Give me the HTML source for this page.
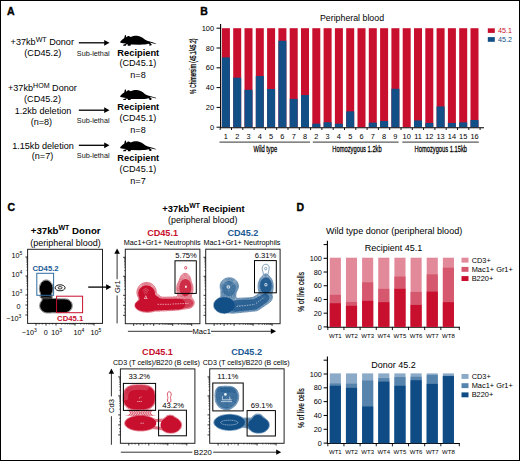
<!DOCTYPE html><html><head><meta charset="utf-8"><style>html,body{margin:0;padding:0;background:#fff;}svg{display:block;font-family:"Liberation Sans",sans-serif;}</style></head><body>
<svg width="520" height="461" viewBox="0 0 520 461">
<rect x="0" y="0" width="520" height="461" fill="#fff"/>
<text x="7" y="14.6" font-size="10.5" text-anchor="start" font-weight="bold" fill="#000" stroke="#000" stroke-width="0.35">A</text>
<text x="10.6" y="45" font-size="9.1">+37kb<tspan font-size="7.1" dy="-3.5">WT</tspan><tspan dy="3.5"> Donor</tspan></text>
<text x="42.8" y="55.6" font-size="9.1" text-anchor="middle" font-weight="normal" fill="#000" >(CD45.2)</text>
<text x="8" y="91.2" font-size="9.1">+37kb<tspan font-size="7.1" dy="-3.5">HOM</tspan><tspan dy="3.5"> Donor</tspan></text>
<text x="42.5" y="101.5" font-size="9.1" text-anchor="middle" font-weight="normal" fill="#000" >(CD45.2)</text>
<text x="43" y="113.8" font-size="9.1" text-anchor="middle" font-weight="normal" fill="#000" >1.2kb deletion</text>
<text x="41.4" y="124.7" font-size="9.1" text-anchor="middle" font-weight="normal" fill="#000" >(n=8)</text>
<text x="43" y="148.7" font-size="9.1" text-anchor="middle" font-weight="normal" fill="#000" >1.15kb deletion</text>
<text x="42.5" y="159.2" font-size="9.1" text-anchor="middle" font-weight="normal" fill="#000" >(n=7)</text>
<line x1="78.8" y1="42.8" x2="104.7" y2="42.8" stroke="#000" stroke-width="1.3"/><path d="M104.2 39.9 L109.5 42.8 L104.2 45.699999999999996 Z" fill="#000"/>
<text transform="translate(93.2,55.8) scale(0.91,1)" font-size="8" text-anchor="middle" fill="#111">Sub-lethal</text>
<line x1="78.8" y1="110.2" x2="104.7" y2="110.2" stroke="#000" stroke-width="1.3"/><path d="M104.2 107.3 L109.5 110.2 L104.2 113.10000000000001 Z" fill="#000"/>
<text transform="translate(93.2,122.9) scale(0.91,1)" font-size="8" text-anchor="middle" fill="#111">Sub-lethal</text>
<line x1="78.8" y1="145.3" x2="104.7" y2="145.3" stroke="#000" stroke-width="1.3"/><path d="M104.2 142.4 L109.5 145.3 L104.2 148.20000000000002 Z" fill="#000"/>
<text transform="translate(93.2,157.7) scale(0.91,1)" font-size="8" text-anchor="middle" fill="#111">Sub-lethal</text>
<path transform="translate(0,0)" d="M120.1 41.9 C121 40.5 122.5 39.3 124.2 38.2 L124.9 35.2 L125.8 35.1 L126.3 37.0 L126.9 37.2 C127.2 36.2 128.0 35.8 128.8 35.9 C129.6 36.0 130.1 36.5 130.6 36.9 C132.5 36.0 135 35.6 137 35.7 C140 36.0 142.5 37.5 144.5 39.3 C146 40.5 147.5 41 149 41.3 L152.5 42.3 L155.9 43.4 L156.3 44.1 L152.4 43.2 L150 42.6 L150.5 43.3 L151.7 44.2 L151.2 45.6 L149.0 45.6 L149.7 44.5 L148.3 43.8 C146 44.5 143 44.7 140 44.7 L131 44.6 L130.4 45.7 L127.7 45.7 L128.0 44.5 L126.5 44.2 L125.7 45.7 L123 45.7 L123.6 44.6 L125.4 44.0 L126.0 43.5 C124 43.4 122 43.1 120.5 42.7 Z" fill="#000"/>
<text x="138.3" y="55.5" font-size="9.3" text-anchor="middle" font-weight="bold" fill="#000" >Recipient</text>
<text x="137.9" y="66.4" font-size="9.1" text-anchor="middle" font-weight="normal" fill="#000" >(CD45.1)</text>
<path transform="translate(0,54.4)" d="M120.1 41.9 C121 40.5 122.5 39.3 124.2 38.2 L124.9 35.2 L125.8 35.1 L126.3 37.0 L126.9 37.2 C127.2 36.2 128.0 35.8 128.8 35.9 C129.6 36.0 130.1 36.5 130.6 36.9 C132.5 36.0 135 35.6 137 35.7 C140 36.0 142.5 37.5 144.5 39.3 C146 40.5 147.5 41 149 41.3 L152.5 42.3 L155.9 43.4 L156.3 44.1 L152.4 43.2 L150 42.6 L150.5 43.3 L151.7 44.2 L151.2 45.6 L149.0 45.6 L149.7 44.5 L148.3 43.8 C146 44.5 143 44.7 140 44.7 L131 44.6 L130.4 45.7 L127.7 45.7 L128.0 44.5 L126.5 44.2 L125.7 45.7 L123 45.7 L123.6 44.6 L125.4 44.0 L126.0 43.5 C124 43.4 122 43.1 120.5 42.7 Z" fill="#000"/>
<text x="138.3" y="109.6" font-size="9.3" text-anchor="middle" font-weight="bold" fill="#000" >Recipient</text>
<text x="137.9" y="120.5" font-size="9.1" text-anchor="middle" font-weight="normal" fill="#000" >(CD45.1)</text>
<path transform="translate(0,105.5)" d="M120.1 41.9 C121 40.5 122.5 39.3 124.2 38.2 L124.9 35.2 L125.8 35.1 L126.3 37.0 L126.9 37.2 C127.2 36.2 128.0 35.8 128.8 35.9 C129.6 36.0 130.1 36.5 130.6 36.9 C132.5 36.0 135 35.6 137 35.7 C140 36.0 142.5 37.5 144.5 39.3 C146 40.5 147.5 41 149 41.3 L152.5 42.3 L155.9 43.4 L156.3 44.1 L152.4 43.2 L150 42.6 L150.5 43.3 L151.7 44.2 L151.2 45.6 L149.0 45.6 L149.7 44.5 L148.3 43.8 C146 44.5 143 44.7 140 44.7 L131 44.6 L130.4 45.7 L127.7 45.7 L128.0 44.5 L126.5 44.2 L125.7 45.7 L123 45.7 L123.6 44.6 L125.4 44.0 L126.0 43.5 C124 43.4 122 43.1 120.5 42.7 Z" fill="#000"/>
<text x="138.3" y="161.2" font-size="9.3" text-anchor="middle" font-weight="bold" fill="#000" >Recipient</text>
<text x="137.9" y="172.1" font-size="9.1" text-anchor="middle" font-weight="normal" fill="#000" >(CD45.1)</text>
<text x="138" y="77.6" font-size="9.1" text-anchor="middle" font-weight="normal" fill="#000" >n=8</text>
<text x="138" y="132.7" font-size="9.1" text-anchor="middle" font-weight="normal" fill="#000" >n=8</text>
<text x="138" y="184" font-size="9.1" text-anchor="middle" font-weight="normal" fill="#000" >n=7</text>
<text x="200.3" y="14.7" font-size="10.5" text-anchor="start" font-weight="bold" fill="#000" stroke="#000" stroke-width="0.35">B</text>
<text x="352" y="21" font-size="8.8" text-anchor="middle" font-weight="normal" fill="#000" >Peripheral blood</text>
<line x1="220.6" y1="24" x2="220.6" y2="127.6" stroke="#000" stroke-width="1.1"/>
<line x1="216.5" y1="127.20" x2="220.6" y2="127.20" stroke="#000" stroke-width="1"/>
<text x="214.2" y="129.75" font-size="7.5" text-anchor="end" font-weight="normal" fill="#000" >0</text>
<line x1="216.5" y1="107.40" x2="220.6" y2="107.40" stroke="#000" stroke-width="1"/>
<text x="214.2" y="109.95" font-size="7.5" text-anchor="end" font-weight="normal" fill="#000" >20</text>
<line x1="216.5" y1="87.60" x2="220.6" y2="87.60" stroke="#000" stroke-width="1"/>
<text x="214.2" y="90.14999999999999" font-size="7.5" text-anchor="end" font-weight="normal" fill="#000" >40</text>
<line x1="216.5" y1="67.80" x2="220.6" y2="67.80" stroke="#000" stroke-width="1"/>
<text x="214.2" y="70.35000000000001" font-size="7.5" text-anchor="end" font-weight="normal" fill="#000" >60</text>
<line x1="216.5" y1="48.00" x2="220.6" y2="48.00" stroke="#000" stroke-width="1"/>
<text x="214.2" y="50.55" font-size="7.5" text-anchor="end" font-weight="normal" fill="#000" >80</text>
<line x1="216.5" y1="28.20" x2="220.6" y2="28.20" stroke="#000" stroke-width="1"/>
<text x="214.2" y="30.750000000000004" font-size="7.5" text-anchor="end" font-weight="normal" fill="#000" >100</text>
<text transform="translate(195.6,66.2) rotate(-90) scale(0.53,1)" font-size="9.4" text-anchor="middle" stroke="#000" stroke-width="0.3">% Chimersim (45.1/45.2)</text>
<rect x="221.90" y="28.20" width="8" height="99.00" fill="#c8102e"/>
<rect x="221.90" y="57.41" width="8" height="69.80" fill="#124f87"/>
<text x="225.90" y="139.2" font-size="7.4" text-anchor="middle" font-weight="normal" fill="#000" >1</text>
<rect x="233.20" y="28.20" width="8" height="99.00" fill="#c8102e"/>
<rect x="233.20" y="77.70" width="8" height="49.50" fill="#124f87"/>
<text x="237.20" y="139.2" font-size="7.4" text-anchor="middle" font-weight="normal" fill="#000" >2</text>
<rect x="244.50" y="28.20" width="8" height="99.00" fill="#c8102e"/>
<rect x="244.50" y="89.78" width="8" height="37.42" fill="#124f87"/>
<text x="248.50" y="139.2" font-size="7.4" text-anchor="middle" font-weight="normal" fill="#000" >3</text>
<rect x="255.80" y="28.20" width="8" height="99.00" fill="#c8102e"/>
<rect x="255.80" y="76.02" width="8" height="51.18" fill="#124f87"/>
<text x="259.80" y="139.2" font-size="7.4" text-anchor="middle" font-weight="normal" fill="#000" >4</text>
<rect x="267.10" y="28.20" width="8" height="99.00" fill="#c8102e"/>
<rect x="267.10" y="88.99" width="8" height="38.21" fill="#124f87"/>
<text x="271.10" y="139.2" font-size="7.4" text-anchor="middle" font-weight="normal" fill="#000" >5</text>
<rect x="278.40" y="28.20" width="8" height="99.00" fill="#c8102e"/>
<rect x="278.40" y="40.77" width="8" height="86.43" fill="#124f87"/>
<text x="282.40" y="139.2" font-size="7.4" text-anchor="middle" font-weight="normal" fill="#000" >6</text>
<rect x="289.70" y="28.20" width="8" height="99.00" fill="#c8102e"/>
<rect x="289.70" y="98.89" width="8" height="28.31" fill="#124f87"/>
<text x="293.70" y="139.2" font-size="7.4" text-anchor="middle" font-weight="normal" fill="#000" >7</text>
<rect x="301.00" y="28.20" width="8" height="99.00" fill="#c8102e"/>
<rect x="301.00" y="95.03" width="8" height="32.17" fill="#124f87"/>
<text x="305.00" y="139.2" font-size="7.4" text-anchor="middle" font-weight="normal" fill="#000" >8</text>
<rect x="312.30" y="28.20" width="8" height="99.00" fill="#c8102e"/>
<rect x="312.30" y="123.64" width="8" height="3.56" fill="#124f87"/>
<text x="316.30" y="139.2" font-size="7.4" text-anchor="middle" font-weight="normal" fill="#000" >2</text>
<rect x="323.60" y="28.20" width="8" height="99.00" fill="#c8102e"/>
<rect x="323.60" y="122.25" width="8" height="4.95" fill="#124f87"/>
<text x="327.60" y="139.2" font-size="7.4" text-anchor="middle" font-weight="normal" fill="#000" >3</text>
<rect x="334.90" y="28.20" width="8" height="99.00" fill="#c8102e"/>
<rect x="334.90" y="123.73" width="8" height="3.46" fill="#124f87"/>
<text x="338.90" y="139.2" font-size="7.4" text-anchor="middle" font-weight="normal" fill="#000" >4</text>
<rect x="346.20" y="28.20" width="8" height="99.00" fill="#c8102e"/>
<rect x="346.20" y="111.36" width="8" height="15.84" fill="#124f87"/>
<text x="350.20" y="139.2" font-size="7.4" text-anchor="middle" font-weight="normal" fill="#000" >5</text>
<rect x="357.50" y="28.20" width="8" height="99.00" fill="#c8102e"/>
<text x="361.50" y="139.2" font-size="7.4" text-anchor="middle" font-weight="normal" fill="#000" >6</text>
<rect x="368.80" y="28.20" width="8" height="99.00" fill="#c8102e"/>
<rect x="368.80" y="122.65" width="8" height="4.55" fill="#124f87"/>
<text x="372.80" y="139.2" font-size="7.4" text-anchor="middle" font-weight="normal" fill="#000" >7</text>
<rect x="380.10" y="28.20" width="8" height="99.00" fill="#c8102e"/>
<rect x="380.10" y="120.96" width="8" height="6.24" fill="#124f87"/>
<text x="384.10" y="139.2" font-size="7.4" text-anchor="middle" font-weight="normal" fill="#000" >8</text>
<rect x="391.40" y="28.20" width="8" height="99.00" fill="#c8102e"/>
<rect x="391.40" y="88.79" width="8" height="38.41" fill="#124f87"/>
<text x="395.40" y="139.2" font-size="7.4" text-anchor="middle" font-weight="normal" fill="#000" >9</text>
<rect x="402.70" y="28.20" width="8" height="99.00" fill="#c8102e"/>
<text x="406.70" y="139.2" font-size="7.4" text-anchor="middle" font-weight="normal" fill="#000" >10</text>
<rect x="414.00" y="28.20" width="8" height="99.00" fill="#c8102e"/>
<rect x="414.00" y="120.47" width="8" height="6.73" fill="#124f87"/>
<text x="418.00" y="139.2" font-size="7.4" text-anchor="middle" font-weight="normal" fill="#000" >11</text>
<rect x="425.30" y="28.20" width="8" height="99.00" fill="#c8102e"/>
<rect x="425.30" y="122.94" width="8" height="4.26" fill="#124f87"/>
<text x="429.30" y="139.2" font-size="7.4" text-anchor="middle" font-weight="normal" fill="#000" >12</text>
<rect x="436.60" y="28.20" width="8" height="99.00" fill="#c8102e"/>
<rect x="436.60" y="106.41" width="8" height="20.79" fill="#124f87"/>
<text x="440.60" y="139.2" font-size="7.4" text-anchor="middle" font-weight="normal" fill="#000" >13</text>
<rect x="447.90" y="28.20" width="8" height="99.00" fill="#c8102e"/>
<rect x="447.90" y="122.94" width="8" height="4.26" fill="#124f87"/>
<text x="451.90" y="139.2" font-size="7.4" text-anchor="middle" font-weight="normal" fill="#000" >14</text>
<rect x="459.20" y="28.20" width="8" height="99.00" fill="#c8102e"/>
<rect x="459.20" y="122.35" width="8" height="4.85" fill="#124f87"/>
<text x="463.20" y="139.2" font-size="7.4" text-anchor="middle" font-weight="normal" fill="#000" >15</text>
<rect x="470.50" y="28.20" width="8" height="99.00" fill="#c8102e"/>
<rect x="470.50" y="119.97" width="8" height="7.23" fill="#124f87"/>
<text x="474.50" y="139.2" font-size="7.4" text-anchor="middle" font-weight="normal" fill="#000" >16</text>
<line x1="220" y1="127.7" x2="484" y2="127.7" stroke="#000" stroke-width="1.1"/>
<line x1="220.20" y1="127.7" x2="220.20" y2="130" stroke="#000" stroke-width="0.9"/>
<line x1="231.50" y1="127.7" x2="231.50" y2="130" stroke="#000" stroke-width="0.9"/>
<line x1="242.80" y1="127.7" x2="242.80" y2="130" stroke="#000" stroke-width="0.9"/>
<line x1="254.10" y1="127.7" x2="254.10" y2="130" stroke="#000" stroke-width="0.9"/>
<line x1="265.40" y1="127.7" x2="265.40" y2="130" stroke="#000" stroke-width="0.9"/>
<line x1="276.70" y1="127.7" x2="276.70" y2="130" stroke="#000" stroke-width="0.9"/>
<line x1="288.00" y1="127.7" x2="288.00" y2="130" stroke="#000" stroke-width="0.9"/>
<line x1="299.30" y1="127.7" x2="299.30" y2="130" stroke="#000" stroke-width="0.9"/>
<line x1="310.60" y1="127.7" x2="310.60" y2="130" stroke="#000" stroke-width="0.9"/>
<line x1="321.90" y1="127.7" x2="321.90" y2="130" stroke="#000" stroke-width="0.9"/>
<line x1="333.20" y1="127.7" x2="333.20" y2="130" stroke="#000" stroke-width="0.9"/>
<line x1="344.50" y1="127.7" x2="344.50" y2="130" stroke="#000" stroke-width="0.9"/>
<line x1="355.80" y1="127.7" x2="355.80" y2="130" stroke="#000" stroke-width="0.9"/>
<line x1="367.10" y1="127.7" x2="367.10" y2="130" stroke="#000" stroke-width="0.9"/>
<line x1="378.40" y1="127.7" x2="378.40" y2="130" stroke="#000" stroke-width="0.9"/>
<line x1="389.70" y1="127.7" x2="389.70" y2="130" stroke="#000" stroke-width="0.9"/>
<line x1="401.00" y1="127.7" x2="401.00" y2="130" stroke="#000" stroke-width="0.9"/>
<line x1="412.30" y1="127.7" x2="412.30" y2="130" stroke="#000" stroke-width="0.9"/>
<line x1="423.60" y1="127.7" x2="423.60" y2="130" stroke="#000" stroke-width="0.9"/>
<line x1="434.90" y1="127.7" x2="434.90" y2="130" stroke="#000" stroke-width="0.9"/>
<line x1="446.20" y1="127.7" x2="446.20" y2="130" stroke="#000" stroke-width="0.9"/>
<line x1="457.50" y1="127.7" x2="457.50" y2="130" stroke="#000" stroke-width="0.9"/>
<line x1="468.80" y1="127.7" x2="468.80" y2="130" stroke="#000" stroke-width="0.9"/>
<line x1="480.10" y1="127.7" x2="480.10" y2="130" stroke="#000" stroke-width="0.9"/>
<line x1="219.5" y1="142.1" x2="310" y2="142.1" stroke="#333" stroke-width="1"/>
<text transform="translate(265.3,152.1) scale(0.68,1)" font-size="8.5" text-anchor="middle" stroke="#000" stroke-width="0.25">Wild type</text>
<line x1="312.8" y1="142.1" x2="398.6" y2="142.1" stroke="#333" stroke-width="1"/>
<text transform="translate(357,152.1) scale(0.68,1)" font-size="8.5" text-anchor="middle" stroke="#000" stroke-width="0.25">Homozygous 1.2kb</text>
<line x1="402.3" y1="142.1" x2="478.8" y2="142.1" stroke="#333" stroke-width="1"/>
<text transform="translate(440.8,152.1) scale(0.68,1)" font-size="8.5" text-anchor="middle" stroke="#000" stroke-width="0.25">Homozygous 1.15kb</text>
<rect x="487.8" y="28.3" width="7" height="4.6" fill="#c8102e"/>
<text x="498" y="33.4" font-size="7.2" text-anchor="start" font-weight="normal" fill="#c8102e" >45.1</text>
<rect x="487.8" y="37.1" width="7" height="4.7" fill="#124f87"/>
<text x="498" y="42" font-size="7.2" text-anchor="start" font-weight="normal" fill="#124f87" >45.2</text>
<text x="7.6" y="211.4" font-size="10.5" text-anchor="start" font-weight="bold" fill="#000" stroke="#000" stroke-width="0.35">C</text>
<text x="65.7" y="233.9" font-size="9.7" font-weight="bold" text-anchor="middle">+37kb<tspan font-size="7.0" dy="-3.7">WT</tspan><tspan dy="3.7"> Donor</tspan></text>
<text x="65.6" y="245.5" font-size="9.0" text-anchor="middle" font-weight="normal" fill="#000" >(peripheral blood)</text>
<rect x="27.6" y="249.3" width="74.9" height="74.09999999999997" fill="none" stroke="#222" stroke-width="1.0"/>
<line x1="25.400000000000002" y1="315.0" x2="27.6" y2="315.0" stroke="#000" stroke-width="0.8"/><line x1="25.400000000000002" y1="305.0" x2="27.6" y2="305.0" stroke="#000" stroke-width="0.8"/><line x1="25.400000000000002" y1="295.0" x2="27.6" y2="295.0" stroke="#000" stroke-width="0.8"/><line x1="25.400000000000002" y1="276.0" x2="27.6" y2="276.0" stroke="#000" stroke-width="0.8"/><line x1="25.400000000000002" y1="257.0" x2="27.6" y2="257.0" stroke="#000" stroke-width="0.8"/><line x1="26.3" y1="289.3" x2="27.6" y2="289.3" stroke="#000" stroke-width="0.5"/><line x1="26.3" y1="285.9" x2="27.6" y2="285.9" stroke="#000" stroke-width="0.5"/><line x1="26.3" y1="283.6" x2="27.6" y2="283.6" stroke="#000" stroke-width="0.5"/><line x1="26.3" y1="281.7" x2="27.6" y2="281.7" stroke="#000" stroke-width="0.5"/><line x1="26.3" y1="280.2" x2="27.6" y2="280.2" stroke="#000" stroke-width="0.5"/><line x1="26.3" y1="278.9" x2="27.6" y2="278.9" stroke="#000" stroke-width="0.5"/><line x1="26.3" y1="277.8" x2="27.6" y2="277.8" stroke="#000" stroke-width="0.5"/><line x1="26.3" y1="276.9" x2="27.6" y2="276.9" stroke="#000" stroke-width="0.5"/><line x1="26.3" y1="270.3" x2="27.6" y2="270.3" stroke="#000" stroke-width="0.5"/><line x1="26.3" y1="266.9" x2="27.6" y2="266.9" stroke="#000" stroke-width="0.5"/><line x1="26.3" y1="264.6" x2="27.6" y2="264.6" stroke="#000" stroke-width="0.5"/><line x1="26.3" y1="262.7" x2="27.6" y2="262.7" stroke="#000" stroke-width="0.5"/><line x1="26.3" y1="261.2" x2="27.6" y2="261.2" stroke="#000" stroke-width="0.5"/><line x1="26.3" y1="259.9" x2="27.6" y2="259.9" stroke="#000" stroke-width="0.5"/><line x1="26.3" y1="258.8" x2="27.6" y2="258.8" stroke="#000" stroke-width="0.5"/><line x1="26.3" y1="257.9" x2="27.6" y2="257.9" stroke="#000" stroke-width="0.5"/><line x1="26.3" y1="311.9" x2="27.6" y2="311.9" stroke="#000" stroke-width="0.5"/><line x1="26.3" y1="308.6" x2="27.6" y2="308.6" stroke="#000" stroke-width="0.5"/><line x1="26.3" y1="301.7" x2="27.6" y2="301.7" stroke="#000" stroke-width="0.5"/><line x1="26.3" y1="298.4" x2="27.6" y2="298.4" stroke="#000" stroke-width="0.5"/>
<line x1="36.0" y1="323.4" x2="36.0" y2="325.59999999999997" stroke="#000" stroke-width="0.8"/><line x1="46.0" y1="323.4" x2="46.0" y2="325.59999999999997" stroke="#000" stroke-width="0.8"/><line x1="56.0" y1="323.4" x2="56.0" y2="325.59999999999997" stroke="#000" stroke-width="0.8"/><line x1="75.0" y1="323.4" x2="75.0" y2="325.59999999999997" stroke="#000" stroke-width="0.8"/><line x1="94.0" y1="323.4" x2="94.0" y2="325.59999999999997" stroke="#000" stroke-width="0.8"/><line x1="61.7" y1="323.4" x2="61.7" y2="324.7" stroke="#000" stroke-width="0.5"/><line x1="65.1" y1="323.4" x2="65.1" y2="324.7" stroke="#000" stroke-width="0.5"/><line x1="67.4" y1="323.4" x2="67.4" y2="324.7" stroke="#000" stroke-width="0.5"/><line x1="69.3" y1="323.4" x2="69.3" y2="324.7" stroke="#000" stroke-width="0.5"/><line x1="70.8" y1="323.4" x2="70.8" y2="324.7" stroke="#000" stroke-width="0.5"/><line x1="72.1" y1="323.4" x2="72.1" y2="324.7" stroke="#000" stroke-width="0.5"/><line x1="73.2" y1="323.4" x2="73.2" y2="324.7" stroke="#000" stroke-width="0.5"/><line x1="74.1" y1="323.4" x2="74.1" y2="324.7" stroke="#000" stroke-width="0.5"/><line x1="80.7" y1="323.4" x2="80.7" y2="324.7" stroke="#000" stroke-width="0.5"/><line x1="84.1" y1="323.4" x2="84.1" y2="324.7" stroke="#000" stroke-width="0.5"/><line x1="86.4" y1="323.4" x2="86.4" y2="324.7" stroke="#000" stroke-width="0.5"/><line x1="88.3" y1="323.4" x2="88.3" y2="324.7" stroke="#000" stroke-width="0.5"/><line x1="89.8" y1="323.4" x2="89.8" y2="324.7" stroke="#000" stroke-width="0.5"/><line x1="91.1" y1="323.4" x2="91.1" y2="324.7" stroke="#000" stroke-width="0.5"/><line x1="92.2" y1="323.4" x2="92.2" y2="324.7" stroke="#000" stroke-width="0.5"/><line x1="93.1" y1="323.4" x2="93.1" y2="324.7" stroke="#000" stroke-width="0.5"/><line x1="39.1" y1="323.4" x2="39.1" y2="324.7" stroke="#000" stroke-width="0.5"/><line x1="42.4" y1="323.4" x2="42.4" y2="324.7" stroke="#000" stroke-width="0.5"/><line x1="49.3" y1="323.4" x2="49.3" y2="324.7" stroke="#000" stroke-width="0.5"/><line x1="52.6" y1="323.4" x2="52.6" y2="324.7" stroke="#000" stroke-width="0.5"/>
<text x="11.4" y="258.3" font-size="7.2">10<tspan font-size='5' dy='-3'>5</tspan></text>
<text x="11.4" y="276.7" font-size="7.2">10<tspan font-size='5' dy='-3'>4</tspan></text>
<text x="11.4" y="296.3" font-size="7.2">10<tspan font-size='5' dy='-3'>3</tspan></text>
<text x="18.6" y="308.8" font-size="7.2" text-anchor="middle" font-weight="normal" fill="#000" >0</text>
<text x="6.2" y="321.2" font-size="7.2">−10<tspan font-size="5" dy="-3">3</tspan></text>
<text x="21.8" y="335.2" font-size="7.2">−10<tspan font-size='5' dy='-3'>3</tspan></text>
<text x="43.8" y="335.2" font-size="7.2">0</text>
<text x="51.2" y="335.2" font-size="7.2">10<tspan font-size='5' dy='-3'>3</tspan></text>
<text x="73.4" y="335.2" font-size="7.2">10<tspan font-size='5' dy='-3'>4</tspan></text>
<text x="90.5" y="335.2" font-size="7.2">10<tspan font-size='5' dy='-3'>5</tspan></text>
<path d="M51.0 312.4 46.3 312.4 44.8 312.1 43.5 311.5 42.4 310.8 41.7 310.1 41.4 309.6 40.7 308.5 40.4 307.7 40.2 306.8 40.1 306.1 40.1 305.3 40.4 303.7 40.9 302.6 41.4 301.8 42.0 301.0 42.4 300.3 42.5 300.1 42.5 299.4 42.4 299.1 42.1 298.6 41.4 297.9 41.1 297.5 40.8 297.0 40.7 296.5 41.1 295.1 41.1 293.9 40.1 291.2 39.9 290.1 39.8 289.4 39.8 287.8 40.0 286.4 40.6 284.7 41.1 283.7 41.8 282.6 42.7 281.7 43.2 281.4 44.0 280.9 45.3 280.5 46.4 280.4 47.2 280.5 48.4 280.9 49.2 281.4 49.7 281.7 50.6 282.7 51.3 283.7 51.9 284.8 52.3 286.0 52.5 287.1 52.6 287.8 52.6 289.4 52.3 291.2 51.3 293.8 51.3 295.0 51.7 296.4 51.7 298.0 51.9 298.4 52.1 298.6 52.7 299.0 53.3 299.1 55.8 299.1 56.2 299.2 60.5 299.2 60.9 299.3 65.0 299.3 65.3 299.4 66.0 299.4 67.1 299.6 68.0 299.9 69.0 300.5 69.5 300.8 70.4 301.7 70.7 302.2 71.2 303.1 71.7 304.6 71.8 305.3 71.8 306.1 71.7 306.8 71.3 308.2 71.0 308.7 70.4 309.6 69.5 310.6 69.0 310.9 68.0 311.5 66.7 311.9 66.0 312.0 65.3 312.0 65.0 312.1 56.2 312.2 55.8 312.3 51.5 312.3 51.0 312.4Z" fill="#000" fill-opacity="1.0"/><path d="M51.3 312.9 46.1 312.9 45.9 312.8 45.5 312.8 44.7 312.6 43.3 311.9 42.2 311.2 41.3 310.3 41.0 309.9 40.2 308.6 39.8 307.0 39.8 306.5 39.6 306.3 39.6 305.1 39.8 304.9 39.8 304.4 40.0 303.6 40.2 302.8 40.8 301.8 41.8 300.5 42.0 300.0 42.0 299.4 41.7 298.8 41.0 298.2 40.7 297.8 40.4 297.1 40.2 296.7 40.2 296.2 40.6 295.0 40.6 293.9 40.0 292.2 39.6 291.3 39.5 290.5 39.5 290.3 39.5 289.8 39.4 289.6 39.4 287.6 39.5 287.4 39.5 286.3 40.0 284.7 40.7 283.4 41.4 282.4 42.5 281.3 42.9 281.0 43.9 280.4 45.1 280.1 45.6 280.1 45.8 279.9 46.6 279.9 46.8 280.1 47.3 280.1 48.5 280.4 49.5 281.0 49.9 281.3 51.0 282.4 51.7 283.4 52.4 284.7 52.9 286.3 53.0 287.4 53.0 287.6 53.0 289.6 53.0 289.8 52.9 290.9 52.4 292.5 51.8 293.9 51.8 295.0 52.2 296.2 52.2 297.9 52.4 298.3 53.3 298.6 56.0 298.6 56.2 298.8 60.7 298.8 60.9 298.9 65.2 298.9 65.4 298.9 66.2 298.9 66.4 299.1 67.2 299.1 68.1 299.4 69.3 300.1 69.7 300.4 70.8 301.5 71.1 301.9 71.8 303.1 72.2 304.4 72.2 304.9 72.2 305.1 72.2 306.3 72.2 306.5 72.2 307.0 71.8 308.3 71.5 308.9 70.8 309.9 69.7 311.0 69.3 311.3 68.1 311.9 66.8 312.4 66.4 312.4 66.2 312.4 65.4 312.4 65.2 312.6 56.2 312.6 56.0 312.8 51.5 312.8 51.3 312.9Z" fill="none" stroke="#000" stroke-width="0.5" stroke-opacity="1.0" stroke-linejoin="round"/>
<path d="M41.2 296.8 C43 297.6 49 297.6 51.4 296.8 M41 298.3 C43 299 49 299 51.6 298.3" fill="none" stroke="#fff" stroke-width="0.5" stroke-opacity="0.6"/>
<ellipse cx="60.1" cy="287.8" rx="5" ry="3" fill="none" stroke="#000" stroke-width="0.9"/>
<ellipse cx="60.1" cy="287.8" rx="2" ry="1.2" fill="none" stroke="#000" stroke-width="0.8"/>
<rect x="36.8" y="273.3" width="16.800000000000004" height="22.0" fill="none" stroke="#2f6da0" stroke-width="1.0"/>
<rect x="56.6" y="296.2" width="25.999999999999993" height="16.5" fill="none" stroke="#c8102e" stroke-width="1.0"/>
<text x="32.5" y="271.3" font-size="7.7" text-anchor="start" font-weight="bold" fill="#1c5a94" >CD45.2</text>
<text x="57.1" y="321.3" font-size="7.7" text-anchor="start" font-weight="bold" fill="#c8102e" >CD45.1</text>
<line x1="88.2" y1="287.1" x2="106.60000000000001" y2="287.1" stroke="#000" stroke-width="1.3"/><path d="M106.10000000000001 284.20000000000005 L111.4 287.1 L106.10000000000001 290.0 Z" fill="#000"/>
<text x="203.5" y="211.6" font-size="9.4" font-weight="bold" text-anchor="middle">+37kb<tspan font-size="6.9" dy="-3.6">WT</tspan><tspan dy="3.6"> Recipient</tspan></text>
<text x="202.7" y="223.3" font-size="8.85" text-anchor="middle" font-weight="normal" fill="#000" >(peripheral blood)</text>
<text transform="translate(162.6,235.9) scale(0.96,1)" font-size="9.5" font-weight="bold" text-anchor="middle" fill="#c8102e">CD45.1</text>
<text transform="translate(242.9,235.9) scale(0.96,1)" font-size="9.5" font-weight="bold" text-anchor="middle" fill="#1c5a94">CD45.2</text>
<text x="162.2" y="245.2" font-size="7.25" text-anchor="middle" font-weight="normal" fill="#000" >Mac1+Gr1+ Neutrophils</text>
<text x="242" y="245.2" font-size="7.25" text-anchor="middle" font-weight="normal" fill="#000" >Mac1+Gr1+ Neutrophils</text>
<rect x="125.3" y="249.2" width="74.60000000000001" height="74.5" fill="none" stroke="#222" stroke-width="1.0"/>
<rect x="205.7" y="249.2" width="74.40000000000003" height="74.5" fill="none" stroke="#222" stroke-width="1.0"/>
<line x1="123.1" y1="315.3" x2="125.3" y2="315.3" stroke="#000" stroke-width="0.8"/><line x1="123.1" y1="305.3" x2="125.3" y2="305.3" stroke="#000" stroke-width="0.8"/><line x1="123.1" y1="295.3" x2="125.3" y2="295.3" stroke="#000" stroke-width="0.8"/><line x1="123.1" y1="276.3" x2="125.3" y2="276.3" stroke="#000" stroke-width="0.8"/><line x1="123.1" y1="257.3" x2="125.3" y2="257.3" stroke="#000" stroke-width="0.8"/><line x1="124.0" y1="289.6" x2="125.3" y2="289.6" stroke="#000" stroke-width="0.5"/><line x1="124.0" y1="286.2" x2="125.3" y2="286.2" stroke="#000" stroke-width="0.5"/><line x1="124.0" y1="283.9" x2="125.3" y2="283.9" stroke="#000" stroke-width="0.5"/><line x1="124.0" y1="282.0" x2="125.3" y2="282.0" stroke="#000" stroke-width="0.5"/><line x1="124.0" y1="280.5" x2="125.3" y2="280.5" stroke="#000" stroke-width="0.5"/><line x1="124.0" y1="279.2" x2="125.3" y2="279.2" stroke="#000" stroke-width="0.5"/><line x1="124.0" y1="278.1" x2="125.3" y2="278.1" stroke="#000" stroke-width="0.5"/><line x1="124.0" y1="277.2" x2="125.3" y2="277.2" stroke="#000" stroke-width="0.5"/><line x1="124.0" y1="270.6" x2="125.3" y2="270.6" stroke="#000" stroke-width="0.5"/><line x1="124.0" y1="267.2" x2="125.3" y2="267.2" stroke="#000" stroke-width="0.5"/><line x1="124.0" y1="264.9" x2="125.3" y2="264.9" stroke="#000" stroke-width="0.5"/><line x1="124.0" y1="263.0" x2="125.3" y2="263.0" stroke="#000" stroke-width="0.5"/><line x1="124.0" y1="261.5" x2="125.3" y2="261.5" stroke="#000" stroke-width="0.5"/><line x1="124.0" y1="260.2" x2="125.3" y2="260.2" stroke="#000" stroke-width="0.5"/><line x1="124.0" y1="259.1" x2="125.3" y2="259.1" stroke="#000" stroke-width="0.5"/><line x1="124.0" y1="258.2" x2="125.3" y2="258.2" stroke="#000" stroke-width="0.5"/><line x1="124.0" y1="312.2" x2="125.3" y2="312.2" stroke="#000" stroke-width="0.5"/><line x1="124.0" y1="308.9" x2="125.3" y2="308.9" stroke="#000" stroke-width="0.5"/><line x1="124.0" y1="302.0" x2="125.3" y2="302.0" stroke="#000" stroke-width="0.5"/><line x1="124.0" y1="298.7" x2="125.3" y2="298.7" stroke="#000" stroke-width="0.5"/>
<line x1="133.7" y1="323.7" x2="133.7" y2="325.9" stroke="#000" stroke-width="0.8"/><line x1="143.7" y1="323.7" x2="143.7" y2="325.9" stroke="#000" stroke-width="0.8"/><line x1="153.7" y1="323.7" x2="153.7" y2="325.9" stroke="#000" stroke-width="0.8"/><line x1="172.7" y1="323.7" x2="172.7" y2="325.9" stroke="#000" stroke-width="0.8"/><line x1="191.7" y1="323.7" x2="191.7" y2="325.9" stroke="#000" stroke-width="0.8"/><line x1="159.4" y1="323.7" x2="159.4" y2="325.0" stroke="#000" stroke-width="0.5"/><line x1="162.8" y1="323.7" x2="162.8" y2="325.0" stroke="#000" stroke-width="0.5"/><line x1="165.1" y1="323.7" x2="165.1" y2="325.0" stroke="#000" stroke-width="0.5"/><line x1="167.0" y1="323.7" x2="167.0" y2="325.0" stroke="#000" stroke-width="0.5"/><line x1="168.5" y1="323.7" x2="168.5" y2="325.0" stroke="#000" stroke-width="0.5"/><line x1="169.8" y1="323.7" x2="169.8" y2="325.0" stroke="#000" stroke-width="0.5"/><line x1="170.9" y1="323.7" x2="170.9" y2="325.0" stroke="#000" stroke-width="0.5"/><line x1="171.8" y1="323.7" x2="171.8" y2="325.0" stroke="#000" stroke-width="0.5"/><line x1="178.4" y1="323.7" x2="178.4" y2="325.0" stroke="#000" stroke-width="0.5"/><line x1="181.8" y1="323.7" x2="181.8" y2="325.0" stroke="#000" stroke-width="0.5"/><line x1="184.1" y1="323.7" x2="184.1" y2="325.0" stroke="#000" stroke-width="0.5"/><line x1="186.0" y1="323.7" x2="186.0" y2="325.0" stroke="#000" stroke-width="0.5"/><line x1="187.5" y1="323.7" x2="187.5" y2="325.0" stroke="#000" stroke-width="0.5"/><line x1="188.8" y1="323.7" x2="188.8" y2="325.0" stroke="#000" stroke-width="0.5"/><line x1="189.9" y1="323.7" x2="189.9" y2="325.0" stroke="#000" stroke-width="0.5"/><line x1="190.8" y1="323.7" x2="190.8" y2="325.0" stroke="#000" stroke-width="0.5"/><line x1="136.8" y1="323.7" x2="136.8" y2="325.0" stroke="#000" stroke-width="0.5"/><line x1="140.1" y1="323.7" x2="140.1" y2="325.0" stroke="#000" stroke-width="0.5"/><line x1="147.0" y1="323.7" x2="147.0" y2="325.0" stroke="#000" stroke-width="0.5"/><line x1="150.3" y1="323.7" x2="150.3" y2="325.0" stroke="#000" stroke-width="0.5"/>
<line x1="203.5" y1="315.3" x2="205.7" y2="315.3" stroke="#000" stroke-width="0.8"/><line x1="203.5" y1="305.3" x2="205.7" y2="305.3" stroke="#000" stroke-width="0.8"/><line x1="203.5" y1="295.3" x2="205.7" y2="295.3" stroke="#000" stroke-width="0.8"/><line x1="203.5" y1="276.3" x2="205.7" y2="276.3" stroke="#000" stroke-width="0.8"/><line x1="203.5" y1="257.3" x2="205.7" y2="257.3" stroke="#000" stroke-width="0.8"/><line x1="204.39999999999998" y1="289.6" x2="205.7" y2="289.6" stroke="#000" stroke-width="0.5"/><line x1="204.39999999999998" y1="286.2" x2="205.7" y2="286.2" stroke="#000" stroke-width="0.5"/><line x1="204.39999999999998" y1="283.9" x2="205.7" y2="283.9" stroke="#000" stroke-width="0.5"/><line x1="204.39999999999998" y1="282.0" x2="205.7" y2="282.0" stroke="#000" stroke-width="0.5"/><line x1="204.39999999999998" y1="280.5" x2="205.7" y2="280.5" stroke="#000" stroke-width="0.5"/><line x1="204.39999999999998" y1="279.2" x2="205.7" y2="279.2" stroke="#000" stroke-width="0.5"/><line x1="204.39999999999998" y1="278.1" x2="205.7" y2="278.1" stroke="#000" stroke-width="0.5"/><line x1="204.39999999999998" y1="277.2" x2="205.7" y2="277.2" stroke="#000" stroke-width="0.5"/><line x1="204.39999999999998" y1="270.6" x2="205.7" y2="270.6" stroke="#000" stroke-width="0.5"/><line x1="204.39999999999998" y1="267.2" x2="205.7" y2="267.2" stroke="#000" stroke-width="0.5"/><line x1="204.39999999999998" y1="264.9" x2="205.7" y2="264.9" stroke="#000" stroke-width="0.5"/><line x1="204.39999999999998" y1="263.0" x2="205.7" y2="263.0" stroke="#000" stroke-width="0.5"/><line x1="204.39999999999998" y1="261.5" x2="205.7" y2="261.5" stroke="#000" stroke-width="0.5"/><line x1="204.39999999999998" y1="260.2" x2="205.7" y2="260.2" stroke="#000" stroke-width="0.5"/><line x1="204.39999999999998" y1="259.1" x2="205.7" y2="259.1" stroke="#000" stroke-width="0.5"/><line x1="204.39999999999998" y1="258.2" x2="205.7" y2="258.2" stroke="#000" stroke-width="0.5"/><line x1="204.39999999999998" y1="312.2" x2="205.7" y2="312.2" stroke="#000" stroke-width="0.5"/><line x1="204.39999999999998" y1="308.9" x2="205.7" y2="308.9" stroke="#000" stroke-width="0.5"/><line x1="204.39999999999998" y1="302.0" x2="205.7" y2="302.0" stroke="#000" stroke-width="0.5"/><line x1="204.39999999999998" y1="298.7" x2="205.7" y2="298.7" stroke="#000" stroke-width="0.5"/>
<line x1="214.1" y1="323.7" x2="214.1" y2="325.9" stroke="#000" stroke-width="0.8"/><line x1="224.1" y1="323.7" x2="224.1" y2="325.9" stroke="#000" stroke-width="0.8"/><line x1="234.1" y1="323.7" x2="234.1" y2="325.9" stroke="#000" stroke-width="0.8"/><line x1="253.1" y1="323.7" x2="253.1" y2="325.9" stroke="#000" stroke-width="0.8"/><line x1="272.1" y1="323.7" x2="272.1" y2="325.9" stroke="#000" stroke-width="0.8"/><line x1="239.8" y1="323.7" x2="239.8" y2="325.0" stroke="#000" stroke-width="0.5"/><line x1="243.2" y1="323.7" x2="243.2" y2="325.0" stroke="#000" stroke-width="0.5"/><line x1="245.5" y1="323.7" x2="245.5" y2="325.0" stroke="#000" stroke-width="0.5"/><line x1="247.4" y1="323.7" x2="247.4" y2="325.0" stroke="#000" stroke-width="0.5"/><line x1="248.9" y1="323.7" x2="248.9" y2="325.0" stroke="#000" stroke-width="0.5"/><line x1="250.2" y1="323.7" x2="250.2" y2="325.0" stroke="#000" stroke-width="0.5"/><line x1="251.3" y1="323.7" x2="251.3" y2="325.0" stroke="#000" stroke-width="0.5"/><line x1="252.2" y1="323.7" x2="252.2" y2="325.0" stroke="#000" stroke-width="0.5"/><line x1="258.8" y1="323.7" x2="258.8" y2="325.0" stroke="#000" stroke-width="0.5"/><line x1="262.2" y1="323.7" x2="262.2" y2="325.0" stroke="#000" stroke-width="0.5"/><line x1="264.5" y1="323.7" x2="264.5" y2="325.0" stroke="#000" stroke-width="0.5"/><line x1="266.4" y1="323.7" x2="266.4" y2="325.0" stroke="#000" stroke-width="0.5"/><line x1="267.9" y1="323.7" x2="267.9" y2="325.0" stroke="#000" stroke-width="0.5"/><line x1="269.2" y1="323.7" x2="269.2" y2="325.0" stroke="#000" stroke-width="0.5"/><line x1="270.3" y1="323.7" x2="270.3" y2="325.0" stroke="#000" stroke-width="0.5"/><line x1="271.2" y1="323.7" x2="271.2" y2="325.0" stroke="#000" stroke-width="0.5"/><line x1="217.2" y1="323.7" x2="217.2" y2="325.0" stroke="#000" stroke-width="0.5"/><line x1="220.5" y1="323.7" x2="220.5" y2="325.0" stroke="#000" stroke-width="0.5"/><line x1="227.4" y1="323.7" x2="227.4" y2="325.0" stroke="#000" stroke-width="0.5"/><line x1="230.7" y1="323.7" x2="230.7" y2="325.0" stroke="#000" stroke-width="0.5"/>
<line x1="117.1" y1="252" x2="117.1" y2="279.2" stroke="#333" stroke-width="1"/>
<path d="M114.3 253.8 L117.1 248.5 L119.9 253.8 Z" fill="#000"/>
<line x1="117.1" y1="295.4" x2="117.1" y2="323.4" stroke="#333" stroke-width="1"/>
<text transform="translate(119.5,286.7) rotate(-90)" font-size="7.5" text-anchor="middle">Gr1</text>
<line x1="127.9" y1="331.3" x2="192.6" y2="331.3" stroke="#333" stroke-width="1"/>
<line x1="211" y1="331.3" x2="272" y2="331.3" stroke="#333" stroke-width="1"/>
<path d="M270.8 328.6 L276.1 331.3 L270.8 334.0 Z" fill="#000"/>
<text x="201.8" y="334.0" font-size="7.6" text-anchor="middle" font-weight="normal" fill="#000" >Mac1</text>
<path d="M148.5 312.4 146.5 312.4 146.3 312.2 145.1 312.2 144.9 312.1 144.3 312.1 144.1 312.1 143.1 311.9 141.5 311.6 139.8 310.9 138.1 310.1 137.2 309.5 136.7 309.0 136.5 308.9 135.5 307.6 135.1 306.5 135.1 306.2 134.9 306.0 134.9 305.0 135.1 304.8 135.1 304.5 135.4 303.5 136.3 302.3 137.8 300.9 138.3 300.2 138.6 299.6 138.6 298.3 137.7 296.1 137.2 294.9 137.2 294.2 137.1 294.0 137.1 293.5 136.9 293.3 136.9 291.3 137.1 291.1 137.2 290.1 137.6 288.8 138.3 287.2 139.3 285.8 140.4 284.7 141.2 284.1 143.0 283.1 143.8 282.9 145.0 282.6 145.6 282.6 145.8 282.4 147.4 282.4 147.6 282.6 148.2 282.6 148.4 282.6 148.7 282.6 149.7 282.9 152.0 284.1 152.8 284.7 153.9 285.8 154.9 287.2 155.7 288.8 156.2 290.5 156.4 292.3 156.9 293.4 157.1 293.7 158.1 294.7 160.6 296.5 161.5 296.9 162.7 297.2 166.8 297.2 167.0 297.1 172.8 297.1 173.0 296.9 174.9 296.9 175.1 296.9 175.6 296.9 176.3 296.6 176.8 296.4 177.3 295.9 177.6 295.2 177.6 294.5 177.4 294.3 177.4 293.9 176.8 291.7 176.8 290.6 176.7 290.4 176.7 287.2 176.8 287.0 176.8 286.5 176.8 286.3 177.1 285.1 177.7 283.4 178.9 280.9 179.3 279.9 180.2 277.6 180.9 276.1 181.6 275.1 182.6 274.2 183.6 273.6 184.6 273.4 185.8 273.4 186.8 273.6 187.8 274.2 188.8 275.1 189.5 276.1 190.2 277.4 190.7 278.9 190.9 279.7 190.9 280.0 191.2 281.3 191.2 281.5 192.6 285.1 192.8 286.3 192.9 286.5 192.9 287.0 192.9 287.2 192.9 290.4 192.9 290.6 192.9 291.1 192.8 291.3 192.6 292.5 191.7 295.0 191.4 295.8 191.4 296.8 191.6 297.3 191.9 297.9 193.4 299.9 193.9 301.0 194.2 302.2 194.2 303.4 193.9 304.6 193.4 305.6 193.2 306.0 192.2 307.0 190.9 307.8 190.1 308.1 188.9 308.4 188.5 308.4 187.8 308.6 186.7 308.6 185.9 308.9 185.4 308.9 184.6 309.1 184.1 309.1 183.9 309.1 183.5 309.1 182.7 309.4 182.2 309.4 181.4 309.6 180.9 309.6 180.1 309.8 179.6 309.8 178.8 309.9 177.5 310.1 177.3 310.1 176.7 310.1 176.5 310.2 175.6 310.2 175.4 310.4 173.9 310.4 173.7 310.4 171.7 310.4 171.5 310.6 169.4 310.6 169.2 310.6 167.2 310.6 167.0 310.8 165.0 310.8 164.8 310.9 162.7 310.9 162.5 310.9 160.2 310.9 160.0 311.1 155.9 311.1 155.7 311.1 155.2 311.1 155.0 311.2 154.2 311.4 151.9 311.9 150.9 312.1 150.7 312.1 150.1 312.1 149.9 312.2 148.7 312.2 148.5 312.4Z M148.6 311.4 148.2 311.5 146.8 311.5 146.4 311.4 145.4 311.4 144.6 311.3 143.3 311.1 141.7 310.7 140.0 310.1 138.6 309.4 137.7 308.8 137.0 308.2 136.2 307.1 135.9 306.3 135.8 305.3 135.9 304.7 136.2 303.9 137.0 302.8 138.5 301.4 139.1 300.6 139.4 299.8 139.4 298.1 138.5 295.9 138.0 294.3 137.8 293.0 137.8 291.6 138.1 289.9 138.6 288.5 139.0 287.8 140.0 286.3 140.9 285.4 141.7 284.8 143.2 284.0 144.7 283.5 146.1 283.3 147.1 283.3 148.5 283.5 150.0 284.0 151.5 284.8 152.3 285.4 153.2 286.3 154.2 287.7 154.6 288.5 155.1 289.9 155.5 292.1 155.8 293.2 156.4 294.2 157.5 295.3 158.0 295.7 160.2 297.3 161.2 297.8 162.6 298.1 166.8 298.1 167.3 298.0 169.9 298.0 170.3 297.9 172.8 297.9 173.3 297.8 174.9 297.8 175.8 297.7 176.7 297.4 177.3 297.1 178.0 296.4 178.4 295.5 178.4 294.3 177.7 291.5 177.5 290.1 177.5 287.5 177.6 286.7 177.9 285.3 178.3 284.1 180.1 280.3 181.0 277.8 181.6 276.6 182.3 275.6 183.1 274.9 183.8 274.5 184.9 274.2 185.6 274.2 186.6 274.5 187.3 274.9 188.1 275.6 188.8 276.6 189.3 277.7 189.8 279.1 190.4 281.8 191.7 285.3 192.1 287.5 192.1 290.1 192.0 290.8 191.7 292.3 190.8 294.7 190.6 295.6 190.6 296.9 190.8 297.6 191.1 298.3 191.6 299.0 192.3 299.8 193.1 301.2 193.4 302.4 193.4 303.1 193.1 304.3 192.7 305.2 192.5 305.5 191.7 306.3 190.7 306.9 189.9 307.2 188.7 307.5 178.5 309.1 176.2 309.4 175.5 309.4 175.1 309.5 173.8 309.5 173.4 309.6 171.6 309.6 171.2 309.7 169.4 309.7 168.9 309.8 164.9 309.9 164.5 310.0 160.2 310.1 159.7 310.2 155.8 310.2 154.0 310.5 152.2 311.0 151.1 311.2 149.6 311.4 148.6 311.4Z M148.2 310.6 146.9 310.6 146.5 310.6 145.5 310.5 144.7 310.4 143.1 310.2 140.8 309.5 139.1 308.7 138.2 308.1 137.3 307.2 137.0 306.7 136.7 306.1 136.7 305.4 136.7 304.9 137.0 304.3 137.7 303.3 139.0 302.1 139.5 301.5 140.0 300.7 140.2 300.0 140.2 298.0 139.9 297.0 139.3 295.6 138.8 294.1 138.7 292.9 138.7 291.7 138.9 290.1 139.4 288.8 139.7 288.2 140.3 287.3 141.4 286.1 142.2 285.5 143.5 284.8 144.9 284.3 146.2 284.2 147.0 284.2 148.3 284.3 149.7 284.8 151.0 285.5 151.8 286.1 152.5 286.8 153.5 288.2 153.8 288.8 154.3 290.1 154.7 292.3 155.1 293.5 155.7 294.7 156.9 295.9 157.5 296.4 159.7 298.0 160.9 298.5 162.6 298.9 166.8 298.9 167.4 298.9 169.8 298.9 170.4 298.8 172.8 298.8 173.4 298.7 175.0 298.6 176.0 298.5 177.0 298.2 177.9 297.7 178.8 296.8 179.2 295.7 179.2 295.3 179.2 294.2 178.6 291.3 178.4 290.0 178.4 287.6 178.5 286.9 178.7 285.5 179.1 284.4 180.9 280.6 181.8 278.1 182.3 277.1 183.2 275.9 184.1 275.3 185.0 275.1 185.4 275.1 186.3 275.3 187.4 276.1 188.1 277.1 188.6 278.2 189.0 279.3 189.6 282.0 190.9 285.5 191.2 287.6 191.2 290.0 191.1 290.7 190.9 292.1 190.0 294.5 189.8 295.8 189.8 297.0 190.0 297.9 190.4 298.8 192.0 300.9 192.3 301.6 192.5 302.6 192.5 303.0 192.3 304.1 191.8 305.0 191.2 305.6 190.6 306.0 189.9 306.3 188.5 306.6 178.4 308.2 176.1 308.5 175.4 308.6 175.0 308.6 173.8 308.7 173.3 308.7 171.6 308.8 171.1 308.8 169.3 308.9 168.8 308.9 167.1 309.0 166.6 309.0 164.9 309.1 164.4 309.1 160.1 309.3 159.6 309.3 155.8 309.4 154.8 309.5 152.0 310.2 150.3 310.4 148.2 310.6Z M147.9 309.8 147.1 309.8 144.8 309.6 143.4 309.3 141.2 308.7 139.6 308.0 138.7 307.4 138.0 306.7 137.6 305.9 137.5 305.5 137.6 305.1 137.8 304.6 138.4 303.8 139.6 302.7 140.2 302.0 140.7 301.1 141.0 300.2 141.1 299.6 141.1 297.8 140.7 296.8 139.8 294.3 139.5 292.8 139.5 291.9 139.8 290.3 140.2 289.1 141.0 287.8 141.9 286.8 142.7 286.2 143.8 285.6 145.1 285.2 146.4 285.0 147.7 285.1 148.8 285.4 149.5 285.7 150.5 286.2 151.3 286.8 151.8 287.3 152.8 288.8 153.4 290.3 153.9 292.5 154.3 293.8 154.6 294.6 155.0 295.2 156.3 296.5 157.0 297.1 159.3 298.7 160.6 299.3 161.6 299.6 162.5 299.8 166.8 299.8 167.6 299.7 169.9 299.7 170.6 299.6 172.9 299.6 173.6 299.5 175.0 299.5 176.2 299.3 177.4 299.0 178.1 298.6 178.5 298.3 179.5 297.2 180.0 296.0 180.1 295.4 180.1 294.2 179.9 293.3 179.4 291.2 179.2 289.8 179.2 287.8 179.3 287.0 179.6 285.7 179.9 284.8 181.7 281.0 182.6 278.4 183.1 277.5 183.7 276.6 184.4 276.1 185.3 275.9 186.0 276.1 186.7 276.6 187.4 277.7 187.7 278.3 188.1 279.4 188.8 282.3 190.0 285.7 190.4 287.7 190.4 289.8 190.3 290.6 190.0 291.9 189.2 294.2 189.0 295.2 188.9 296.8 189.0 297.4 189.3 298.4 190.2 299.9 191.2 301.3 191.5 301.8 191.6 302.3 191.7 302.8 191.5 303.7 191.2 304.3 190.7 304.9 190.1 305.3 189.6 305.5 188.4 305.8 178.3 307.4 176.0 307.7 173.1 307.9 169.3 308.0 168.6 308.1 164.8 308.2 164.2 308.3 162.6 308.3 161.9 308.4 160.1 308.4 159.4 308.5 155.7 308.5 154.7 308.6 151.8 309.3 150.2 309.6 147.9 309.8Z M148.1 308.9 147.2 308.9 145.7 308.8 143.8 308.6 142.3 308.2 140.9 307.7 139.9 307.2 139.3 306.8 138.9 306.4 138.6 306.0 138.4 305.7 138.4 305.3 138.6 304.9 139.1 304.3 140.4 303.1 141.2 302.0 141.6 301.3 141.9 300.4 141.9 299.7 141.9 297.7 141.5 296.5 140.6 294.1 140.4 292.7 140.3 292.0 140.6 290.6 141.0 289.4 141.6 288.4 142.5 287.4 143.2 286.9 144.2 286.4 145.3 286.0 146.5 285.9 147.6 286.0 148.5 286.2 149.5 286.6 150.1 287.0 151.1 287.8 151.6 288.5 152.2 289.4 152.6 290.5 153.0 292.7 153.5 294.1 153.9 295.0 154.4 295.8 155.8 297.2 156.5 297.8 158.8 299.4 160.3 300.1 161.5 300.5 162.7 300.6 166.9 300.6 167.7 300.6 172.9 300.4 173.7 300.4 175.2 300.3 176.4 300.2 177.7 299.8 178.8 299.2 179.9 298.1 180.5 297.2 180.9 295.8 180.9 294.5 180.8 293.2 180.2 291.0 180.1 289.7 180.1 287.8 180.4 285.9 180.9 284.5 182.5 281.3 183.4 278.7 184.0 277.7 184.3 277.2 184.6 277.0 185.2 276.8 185.6 276.9 186.1 277.2 186.6 278.0 187.0 278.8 187.3 279.7 188.0 282.5 189.2 285.9 189.4 287.1 189.6 287.9 189.5 289.8 189.2 291.7 188.4 293.9 188.1 295.1 188.1 296.9 188.3 298.3 188.8 299.4 189.5 300.5 190.3 301.5 190.7 302.2 190.8 302.8 190.7 303.4 190.5 303.9 190.1 304.3 189.7 304.5 189.2 304.7 187.1 305.2 175.9 306.8 173.0 307.1 169.2 307.2 168.5 307.2 162.5 307.5 161.8 307.6 160.1 307.6 159.3 307.6 155.6 307.7 154.5 307.8 150.6 308.7 149.3 308.8 148.1 308.9Z M148.6 308.0 147.3 308.1 145.8 308.0 143.9 307.7 142.6 307.4 141.3 306.9 140.4 306.5 139.8 306.1 139.3 305.5 139.7 304.9 140.9 303.8 141.6 302.9 142.3 301.7 142.7 300.5 142.8 299.6 142.7 297.5 142.3 296.2 141.4 293.8 141.2 292.6 141.2 292.1 141.4 290.8 141.8 289.8 142.3 288.9 143.0 288.1 143.7 287.6 144.5 287.2 145.5 286.8 146.6 286.7 147.7 286.8 148.3 287.0 149.2 287.4 149.9 287.9 150.5 288.4 150.9 288.9 151.4 289.8 151.8 290.8 152.2 292.9 152.7 294.4 153.1 295.4 153.7 296.3 155.2 297.8 156.0 298.4 158.4 300.2 159.9 300.9 161.3 301.3 162.7 301.5 166.9 301.5 167.8 301.4 173.0 301.3 173.8 301.2 175.3 301.2 176.6 301.0 178.0 300.6 179.4 299.8 180.6 298.6 181.0 298.0 181.3 297.4 181.7 295.9 181.8 294.4 181.6 293.1 181.1 290.9 180.9 289.7 180.9 287.9 181.2 286.4 181.7 284.9 183.2 281.7 184.2 279.1 184.5 278.4 184.9 277.9 185.2 277.6 185.5 277.9 186.1 278.8 186.5 279.9 187.2 282.7 188.4 286.1 188.6 287.3 188.7 288.0 188.7 289.6 188.6 290.3 188.4 291.4 187.6 293.7 187.3 294.9 187.2 295.6 187.2 297.1 187.5 298.5 188.1 299.8 188.8 300.9 189.6 301.9 189.9 302.4 190.0 302.8 189.9 303.0 189.8 303.4 189.6 303.6 188.9 303.9 187.0 304.3 175.8 306.0 172.9 306.2 169.2 306.3 168.4 306.4 162.5 306.6 161.7 306.7 160.0 306.7 159.2 306.8 155.6 306.8 153.3 307.2 151.1 307.7 149.2 308.0 148.6 308.0Z M147.9 307.2 147.4 307.2 145.9 307.1 144.0 306.9 142.1 306.3 140.9 305.8 140.5 305.5 140.5 305.4 141.7 304.2 142.6 302.9 143.2 301.8 143.6 300.6 143.7 299.6 143.6 297.4 143.2 296.0 142.2 293.6 142.1 292.2 142.2 291.0 142.6 290.1 143.3 289.0 143.8 288.6 144.5 288.1 145.2 287.8 146.6 287.6 148.0 287.8 148.8 288.2 149.6 288.7 150.2 289.4 150.6 290.1 151.0 291.0 151.4 293.1 151.9 294.7 152.4 295.8 153.0 296.8 154.5 298.3 155.1 298.8 157.9 300.8 159.5 301.7 161.1 302.1 162.7 302.4 166.9 302.3 167.9 302.2 170.1 302.2 170.9 302.1 173.0 302.1 173.8 302.1 175.4 302.0 176.8 301.8 178.4 301.3 179.3 300.9 180.0 300.4 181.4 299.0 181.8 298.3 182.1 297.6 182.6 296.0 182.6 294.3 182.5 292.9 181.9 290.8 181.8 289.6 181.8 288.1 181.8 287.4 182.0 286.4 182.3 285.7 184.0 282.0 185.2 278.9 185.7 280.2 186.4 283.1 187.6 286.4 187.8 288.0 187.8 289.6 187.6 291.0 186.8 293.5 186.4 295.0 186.3 295.8 186.4 297.6 186.7 298.7 187.0 299.5 187.6 300.7 189.0 302.6 189.1 302.8 189.0 303.0 188.0 303.3 186.8 303.5 175.7 305.1 172.9 305.3 169.2 305.5 164.0 305.7 162.4 305.8 161.7 305.8 160.0 305.9 159.1 305.9 155.5 306.0 154.2 306.1 150.3 307.0 147.9 307.2Z M148.6 306.3 147.4 306.4 145.2 306.2 143.0 305.7 141.8 305.3 142.6 304.4 143.6 303.0 144.1 301.9 144.4 300.6 144.5 299.8 144.5 298.3 144.4 297.2 144.0 295.7 143.1 293.4 142.9 292.2 143.1 291.2 143.4 290.4 144.0 289.5 144.6 289.1 145.5 288.6 146.6 288.4 147.3 288.5 148.0 288.7 149.1 289.4 149.8 290.3 150.1 291.0 150.7 293.8 151.2 295.2 151.7 296.3 152.4 297.3 153.4 298.4 154.5 299.4 157.4 301.5 159.1 302.4 160.9 303.0 162.6 303.2 166.9 303.2 167.9 303.1 170.1 303.1 170.9 303.0 173.0 303.0 173.9 302.9 175.4 302.9 176.7 302.7 178.6 302.1 179.6 301.7 180.3 301.2 180.9 300.7 181.9 299.7 182.5 298.9 182.8 298.1 183.4 296.3 183.5 295.5 183.5 294.4 183.3 292.8 182.8 290.6 182.6 289.5 182.6 288.1 182.7 287.5 183.1 286.0 184.4 283.3 185.1 281.5 185.6 283.4 186.7 286.6 187.0 288.1 187.0 289.5 186.8 290.9 185.9 293.3 185.6 294.9 185.5 295.8 185.6 297.6 185.8 298.9 186.2 299.8 186.8 301.0 187.8 302.4 186.2 302.7 175.6 304.3 172.8 304.5 169.1 304.6 168.3 304.7 162.4 304.9 161.6 305.0 160.0 305.0 159.1 305.1 155.4 305.1 154.0 305.3 150.8 306.0 148.6 306.3Z M179.4 302.9 179.0 302.9 180.1 302.4 180.9 301.8 181.5 301.3 182.6 300.2 183.4 298.9 184.1 297.2 184.3 295.8 184.3 294.0 184.1 292.5 183.5 290.0 183.4 289.4 183.4 288.2 183.7 286.9 183.8 286.4 184.9 284.1 185.2 284.9 185.9 286.9 186.2 288.2 186.2 289.4 185.9 290.7 185.1 293.0 184.8 294.5 184.7 295.6 184.7 297.4 184.8 298.3 185.2 299.6 185.8 301.0 186.3 301.8 179.4 302.9Z M147.8 305.5 147.5 305.6 145.4 305.4 144.3 305.2 143.3 304.9 144.1 303.7 144.7 302.5 145.2 301.2 145.3 299.9 145.3 298.1 145.2 297.1 144.8 295.4 143.9 293.1 143.8 292.3 143.9 291.5 144.1 290.8 144.7 290.0 145.5 289.5 146.1 289.3 146.6 289.3 147.2 289.4 147.9 289.6 148.5 290.0 149.0 290.7 149.3 291.5 149.9 294.3 150.6 296.0 151.1 296.9 151.7 297.8 153.4 299.6 156.0 301.6 157.5 302.6 158.7 303.2 159.6 303.5 161.9 304.0 161.9 304.1 161.5 304.1 155.2 304.3 153.9 304.5 150.1 305.3 147.8 305.5Z M184.8 291.4 184.7 291.3 184.4 290.3 184.3 289.3 184.4 287.7 184.5 287.1 184.8 286.2 185.1 287.1 185.3 288.3 185.2 289.9 184.8 291.4Z M148.8 304.6 147.5 304.7 144.7 304.4 145.5 302.9 146.0 301.4 146.2 300.1 146.2 298.2 146.1 297.2 145.9 296.3 145.5 295.0 144.8 293.1 144.6 292.3 144.7 291.7 145.0 291.0 145.5 290.5 146.2 290.2 146.9 290.2 147.4 290.3 147.9 290.6 148.3 291.2 148.6 292.0 149.1 294.3 149.5 295.7 150.2 297.2 151.2 298.6 153.3 300.7 155.6 302.4 157.1 303.3 157.1 303.4 157.2 303.4 154.8 303.5 152.6 303.9 150.8 304.3 148.8 304.6Z M182.8 301.5 182.5 301.5 183.3 300.6 184.2 299.3 184.5 300.2 184.9 301.1 184.9 301.2 182.8 301.5Z M147.7 303.8 146.1 303.7 146.6 302.2 146.9 301.0 147.0 299.9 147.0 297.8 146.9 296.8 146.7 295.9 146.3 294.7 145.6 293.0 145.5 292.3 145.6 291.8 145.9 291.3 146.2 291.1 146.6 291.0 147.2 291.2 147.6 291.6 147.8 292.2 148.2 294.5 148.7 295.9 149.4 297.4 150.1 298.5 150.8 299.4 152.3 300.9 154.5 302.6 154.3 302.7 152.4 303.0 150.4 303.5 148.8 303.7 147.7 303.8Z" fill="none" stroke="#c8102e" stroke-width="0.55" stroke-opacity="1.0" stroke-linejoin="round"/>
<path d="M148.4 311.7 145.6 311.7 145.5 311.6 144.4 311.6 144.3 311.5 143.7 311.5 143.6 311.4 143.1 311.4 143.0 311.3 142.6 311.3 142.5 311.2 142.1 311.2 142.0 311.1 141.7 311.1 141.6 311.0 141.3 311.0 141.2 310.9 141.0 310.9 140.9 310.8 140.1 310.6 139.8 310.4 139.6 310.4 138.0 309.6 137.8 309.4 137.4 309.2 137.1 308.9 137.0 308.9 136.0 307.9 136.0 307.8 135.7 307.5 135.2 306.5 135.2 306.2 135.1 306.1 135.1 305.6 135.0 305.5 135.0 305.1 135.1 305.0 135.1 304.5 135.2 304.4 135.2 304.1 135.7 303.1 136.0 302.8 136.0 302.7 137.0 301.7 137.1 301.7 137.8 301.1 138.2 300.9 138.5 300.6 138.6 300.6 139.2 300.0 139.2 299.9 139.5 299.5 139.5 299.1 139.6 299.0 139.5 298.2 139.4 298.1 139.3 297.6 139.1 297.3 139.1 297.1 138.9 296.8 138.9 296.6 138.7 296.3 138.7 296.0 138.5 295.6 138.5 295.3 138.4 295.2 138.4 294.6 138.3 294.5 138.3 292.7 138.4 292.6 138.4 292.0 138.5 291.9 138.5 291.6 138.6 291.5 138.8 290.7 139.0 290.4 139.0 290.2 139.2 289.8 139.4 289.6 139.5 289.3 140.0 288.7 140.0 288.6 141.3 287.3 141.4 287.3 141.7 287.0 141.8 287.0 142.3 286.6 143.3 286.1 143.5 286.1 144.1 285.8 144.8 285.7 144.9 285.6 145.4 285.6 145.5 285.5 147.7 285.5 147.8 285.6 148.3 285.6 148.4 285.7 149.1 285.8 149.7 286.1 149.9 286.1 150.9 286.6 151.1 286.8 151.5 287.0 151.8 287.3 151.9 287.3 153.2 288.6 153.2 288.7 153.5 289.0 153.5 289.1 153.7 289.3 153.8 289.6 154.0 289.8 154.2 290.2 154.2 290.4 154.4 290.7 154.4 290.9 154.5 291.0 154.5 291.2 154.7 291.6 154.7 291.9 154.8 292.0 154.8 292.4 154.9 292.5 154.9 293.1 155.0 293.2 155.1 294.2 155.2 294.3 155.2 294.5 155.5 295.1 156.2 295.8 157.0 296.2 157.2 296.4 157.7 296.6 159.9 298.2 160.1 298.2 160.7 298.5 161.0 298.5 161.1 298.6 161.8 298.6 161.9 298.7 179.6 298.7 179.7 298.8 180.5 298.8 180.6 298.9 181.0 298.9 181.1 299.0 181.4 299.0 182.0 299.3 182.2 299.3 182.9 299.8 183.0 299.8 183.3 300.1 183.4 300.1 183.9 300.6 183.9 300.7 184.3 301.1 184.4 301.4 184.6 301.6 184.7 302.0 185.0 302.6 185.0 302.9 185.1 303.0 185.1 303.8 185.2 303.9 185.2 304.1 185.1 304.2 185.1 305.0 185.0 305.1 185.0 305.4 184.7 306.0 184.7 306.2 184.4 306.6 184.3 306.9 183.7 307.6 182.9 308.3 182.6 308.4 182.4 308.6 182.0 308.8 181.8 308.8 181.5 309.0 180.8 309.1 180.7 309.2 180.3 309.2 180.2 309.3 179.5 309.3 179.4 309.4 177.9 309.4 177.8 309.5 173.6 309.6 173.5 309.7 171.4 309.7 171.3 309.8 169.2 309.8 169.1 309.9 164.9 310.0 164.8 310.1 162.7 310.1 162.6 310.2 160.5 310.2 160.4 310.3 158.2 310.3 158.1 310.4 155.7 310.4 155.6 310.5 154.8 310.5 154.7 310.6 153.7 310.7 153.6 310.8 152.9 310.9 152.8 311.0 152.4 311.0 152.3 311.1 151.6 311.2 151.5 311.3 151.0 311.3 150.9 311.4 150.4 311.4 150.3 311.5 149.7 311.5 149.6 311.6 148.5 311.6 148.4 311.7Z" fill="#c8102e" fill-opacity="1.0"/>
<path d="M179.2 309.2 177.3 309.2 177.2 309.1 176.4 309.0 176.1 308.8 175.9 308.8 175.5 308.6 175.0 308.2 174.9 308.2 173.8 307.1 173.8 307.0 173.4 306.5 173.2 306.1 173.2 305.9 173.0 305.6 172.9 304.8 172.8 304.7 172.8 303.3 172.9 303.2 172.9 302.8 173.0 302.7 173.0 302.4 173.2 302.1 173.2 301.9 173.4 301.5 173.8 301.0 173.8 300.9 174.9 299.8 175.0 299.8 175.5 299.4 175.9 299.2 176.1 299.2 176.4 299.0 176.7 299.0 176.8 298.9 177.1 298.9 177.2 298.8 178.0 298.8 178.1 298.7 188.8 298.7 188.9 298.8 189.5 298.8 189.6 298.9 190.0 298.9 190.6 299.2 191.0 299.3 191.6 299.8 191.7 299.8 192.2 300.3 192.2 300.4 192.7 301.0 192.8 301.4 193.0 301.7 193.0 302.0 193.1 302.1 193.1 302.6 193.2 302.7 193.2 303.3 193.1 303.4 193.1 303.9 193.0 304.0 193.0 304.3 192.8 304.6 192.7 305.0 192.2 305.6 192.2 305.7 191.7 306.2 191.6 306.2 191.0 306.7 190.4 307.0 190.2 307.0 190.1 307.1 189.9 307.1 189.5 307.3 189.2 307.3 189.1 307.4 188.7 307.4 188.6 307.5 188.2 307.5 188.1 307.6 187.7 307.6 187.6 307.7 187.2 307.7 187.1 307.8 186.6 307.8 186.5 307.9 186.1 307.9 186.0 308.0 185.5 308.0 185.4 308.1 185.0 308.1 184.9 308.2 184.4 308.2 184.3 308.3 183.9 308.3 183.8 308.4 183.3 308.4 183.2 308.5 182.8 308.5 182.7 308.6 182.2 308.6 182.1 308.7 181.7 308.7 181.6 308.8 181.1 308.8 181.0 308.9 180.6 308.9 180.5 309.0 179.3 309.1 179.2 309.2Z" fill="#c8102e" fill-opacity="0.6"/>
<path d="M185.8 296.1 185.0 296.1 184.9 296.0 184.4 296.0 184.3 295.9 183.8 295.8 182.7 295.2 181.6 294.2 181.6 294.1 181.2 293.7 181.2 293.6 180.8 293.1 180.2 291.9 180.2 291.7 180.0 291.4 179.9 290.8 179.7 290.4 179.7 290.0 179.6 289.9 179.6 289.4 179.5 289.3 179.5 288.4 179.4 288.3 179.4 286.9 179.5 286.8 179.5 285.9 179.6 285.8 179.7 284.8 179.8 284.7 179.9 284.1 180.2 283.5 180.2 283.3 180.8 282.1 181.0 281.9 181.2 281.5 181.6 281.1 181.6 281.0 182.7 280.0 183.8 279.4 184.0 279.4 184.4 279.2 185.0 279.2 185.1 279.1 186.4 279.2 186.5 279.3 187.0 279.4 188.1 280.0 189.2 281.0 189.2 281.1 189.6 281.5 189.8 281.9 190.0 282.1 190.6 283.3 190.6 283.5 190.8 283.8 190.9 284.4 191.1 284.8 191.1 285.2 191.2 285.3 191.2 285.8 191.3 285.9 191.3 286.8 191.4 286.9 191.4 288.3 191.3 288.4 191.3 289.3 191.2 289.4 191.1 290.4 191.0 290.5 190.9 291.1 190.6 291.7 190.6 291.9 190.0 293.1 189.6 293.6 189.6 293.7 189.2 294.1 189.2 294.2 188.1 295.2 187.0 295.8 186.8 295.8 186.4 296.0 185.9 296.0 185.8 296.1Z" fill="#c8102e" fill-opacity="0.75"/>
<path d="M145.8 294.9 L143.9 299.1 L147.7 299.1 Z M145.8 296.6 L145.0 298.3 L146.6 298.3 Z" fill="#fff" fill-opacity="0.7" fill-rule="evenodd"/>
<path d="M143.6 292.2 L145.8 290.2 L148 292.2 M144.2 293.9 L145.8 292.4 L147.4 293.9 M142.8 290.6 L145.8 288.4 L148.8 290.6" fill="none" stroke="#fff" stroke-width="0.5" stroke-opacity="0.55"/>
<path d="M157.5 304.3 L171 304.3 M172.5 304.0 L188.5 303.4" stroke="#fff" stroke-width="0.7" stroke-dasharray="1.6 0.9" stroke-opacity="0.8"/>
<ellipse cx="185.9" cy="286.8" rx="0.9" ry="1.3" fill="#fff"/>
<ellipse cx="185.7" cy="267.8" rx="1.1" ry="1.3" fill="none" stroke="#c8102e" stroke-width="0.7"/>
<rect x="175" y="260.8" width="21.30000000000001" height="32.599999999999966" fill="none" stroke="#000" stroke-width="1.0"/>
<text x="186.1" y="257.8" font-size="7.6" text-anchor="middle" font-weight="normal" fill="#000" >5.75%</text>
<path d="M225.1 313.4 223.5 313.4 223.3 313.2 222.5 313.2 222.3 313.1 221.9 313.1 221.7 313.1 221.4 313.1 220.6 312.9 219.2 312.4 217.4 311.4 216.1 310.4 215.2 309.4 214.6 308.5 214.2 307.8 213.8 306.6 213.8 306.2 213.8 306.0 213.8 304.4 213.8 304.2 213.8 303.8 214.2 302.6 214.6 301.9 215.2 301.0 216.1 300.0 217.1 299.2 219.8 297.6 220.2 297.2 220.7 296.4 220.8 295.6 220.8 294.6 220.9 294.4 220.9 290.7 220.8 290.5 220.8 289.6 220.4 288.7 220.2 287.5 220.2 287.3 220.2 285.1 220.7 283.3 221.3 282.0 222.2 280.8 223.3 279.8 224.6 278.9 226.5 278.1 227.3 277.9 227.7 277.9 227.9 277.9 229.7 277.8 229.9 277.9 230.7 277.9 230.9 277.9 231.3 277.9 232.1 278.1 233.4 278.6 234.9 279.5 235.8 280.2 236.4 280.8 237.3 282.1 237.9 283.3 238.2 284.2 238.3 284.9 238.4 285.1 238.4 287.3 237.9 289.1 237.1 290.7 236.2 292.5 236.2 293.2 236.1 293.4 236.1 293.9 235.9 294.1 235.9 294.9 235.8 295.1 235.8 296.6 236.2 297.5 236.7 298.0 237.3 298.2 238.7 298.4 238.9 298.2 240.6 298.2 240.8 298.1 242.4 298.1 242.6 298.1 244.2 298.1 244.4 297.9 245.9 297.9 246.1 297.9 247.7 297.9 247.9 297.8 249.5 297.8 249.7 297.6 250.9 297.6 251.1 297.6 251.8 297.6 252.0 297.4 252.7 297.4 253.8 296.9 256.5 295.3 257.7 294.5 258.5 293.7 258.9 293.0 258.9 292.5 258.9 292.3 258.9 292.1 258.9 291.5 258.8 291.3 258.8 291.0 258.4 289.4 258.4 288.9 258.2 288.7 258.2 287.8 258.1 287.6 258.1 285.4 258.2 285.2 258.2 284.3 258.4 284.1 258.4 283.1 258.8 281.9 259.4 280.2 260.1 278.7 261.0 277.4 261.6 276.8 261.7 276.6 263.3 275.0 263.8 274.6 264.8 274.1 265.5 273.9 266.1 273.9 266.5 273.9 267.4 274.4 267.8 274.6 269.2 276.0 269.3 276.2 270.4 277.4 271.4 278.8 272.1 280.2 272.6 281.9 272.9 283.1 272.9 283.4 273.1 283.6 273.1 284.1 273.1 284.3 273.1 285.2 273.2 285.4 273.2 287.6 273.1 287.8 273.1 288.7 273.1 288.9 272.9 289.9 272.1 293.3 272.1 294.5 272.1 294.7 272.2 295.8 272.4 296.0 272.4 297.9 272.2 298.1 272.2 298.4 271.9 299.6 271.3 300.6 271.0 301.0 269.7 302.3 259.1 309.6 257.7 310.4 256.1 310.9 255.2 310.9 255.0 311.1 253.4 311.1 253.2 311.2 252.4 311.2 252.2 311.4 251.4 311.4 251.2 311.4 250.4 311.4 250.2 311.6 249.4 311.6 249.2 311.6 248.4 311.6 248.2 311.8 247.4 311.8 247.2 311.9 246.4 311.9 246.2 311.9 245.4 311.9 245.2 312.1 244.4 312.1 244.2 312.1 243.4 312.1 243.2 312.2 242.4 312.2 242.2 312.4 241.4 312.4 241.2 312.4 239.4 312.6 239.2 312.6 238.4 312.6 238.2 312.8 236.4 312.9 236.2 312.9 235.4 312.9 235.2 313.1 234.3 313.1 234.1 313.1 232.9 313.1 232.7 313.2 231.9 313.2 231.7 313.1 230.8 313.1 230.6 313.1 230.0 313.1 229.8 312.9 227.7 312.9 226.9 313.1 226.4 313.1 226.2 313.2 225.3 313.2 225.1 313.4Z M224.9 312.6 223.7 312.6 223.4 312.5 222.7 312.5 220.8 312.1 219.4 311.6 217.8 310.8 216.3 309.6 215.2 308.1 215.0 307.6 214.6 306.4 214.5 305.7 214.5 304.6 214.6 304.0 215.0 302.7 215.8 301.4 216.5 300.6 217.5 299.8 220.3 298.1 220.8 297.6 221.3 296.7 221.6 295.7 221.6 294.8 221.7 294.5 221.7 290.7 221.4 289.4 220.9 287.1 220.9 285.3 221.4 283.5 221.9 282.4 222.8 281.2 223.7 280.4 225.1 279.5 226.7 278.9 227.5 278.7 228.8 278.6 229.1 278.5 230.5 278.6 231.9 278.9 233.7 279.6 234.5 280.1 235.4 280.8 236.5 282.1 237.2 283.4 237.5 284.4 237.7 285.3 237.7 287.0 237.5 288.0 237.2 288.9 235.6 292.2 235.2 294.0 235.2 294.7 235.1 295.1 235.2 296.8 235.3 297.3 235.6 297.9 236.3 298.6 237.1 298.9 238.7 299.1 239.1 299.0 240.6 299.0 241.0 298.9 242.4 298.9 242.8 298.8 246.0 298.7 246.3 298.6 249.5 298.5 249.9 298.4 251.0 298.4 251.3 298.3 252.0 298.2 253.0 298.0 254.1 297.6 256.1 296.4 258.1 295.1 259.2 294.0 259.5 293.2 259.7 292.3 259.5 291.3 259.1 289.2 259.0 287.7 258.9 287.4 258.9 285.6 259.0 285.3 259.0 284.5 259.2 283.3 259.9 280.9 260.6 279.3 261.3 278.2 262.3 277.0 263.7 275.6 264.2 275.2 265.0 274.8 265.9 274.6 266.6 274.8 267.4 275.2 268.6 276.4 269.8 277.8 270.8 279.3 271.3 280.4 271.9 282.1 272.4 284.5 272.4 285.3 272.5 285.7 272.5 287.3 272.2 289.7 271.3 293.2 271.3 294.6 271.6 296.3 271.6 297.7 271.5 298.2 271.1 299.4 270.7 300.2 270.4 300.6 269.3 301.7 258.7 309.0 257.5 309.6 255.9 310.1 253.0 310.5 252.3 310.5 252.0 310.6 251.3 310.6 251.0 310.7 250.3 310.7 250.0 310.8 249.3 310.8 249.0 310.9 248.3 310.9 247.0 311.1 246.3 311.1 246.0 311.2 244.3 311.3 244.0 311.4 242.3 311.5 241.0 311.7 240.3 311.7 239.0 311.9 235.3 312.2 235.0 312.3 234.2 312.3 233.9 312.4 232.8 312.4 232.2 312.5 231.8 312.4 230.2 312.3 229.9 312.2 227.7 312.2 226.0 312.5 225.2 312.5 224.9 312.6Z M224.7 311.9 222.9 311.8 221.0 311.4 219.6 310.9 218.2 310.2 216.9 309.1 215.8 307.7 215.3 306.4 215.2 305.6 215.2 304.8 215.3 304.0 215.8 302.8 216.4 301.8 217.0 301.2 218.0 300.4 219.9 299.3 220.7 298.7 221.4 298.0 222.0 297.0 222.3 295.9 222.3 295.0 222.4 294.5 222.4 290.6 222.2 289.3 221.6 286.9 221.6 285.5 222.0 283.8 222.5 282.9 223.4 281.6 224.6 280.7 225.6 280.1 226.4 279.7 227.3 279.5 229.3 279.2 230.3 279.3 231.9 279.6 233.2 280.2 234.0 280.7 235.0 281.4 235.9 282.6 236.5 283.7 236.8 284.6 237.0 285.5 237.0 286.9 236.8 287.8 236.5 288.7 235.2 291.3 234.9 292.1 234.6 293.2 234.4 295.0 234.4 296.9 234.6 297.6 234.9 298.2 235.9 299.2 236.4 299.5 237.0 299.7 238.0 299.8 238.8 299.8 239.3 299.7 240.7 299.7 241.2 299.6 242.5 299.6 243.0 299.5 246.0 299.4 246.5 299.3 249.6 299.2 250.1 299.1 251.1 299.1 252.6 298.9 253.5 298.6 254.7 298.1 256.4 297.1 258.5 295.7 259.7 294.5 260.3 293.3 260.4 292.2 260.3 291.2 259.7 288.3 259.7 287.7 259.6 287.2 259.6 285.8 259.9 283.5 260.2 282.3 260.8 280.6 261.3 279.6 262.2 278.2 264.1 276.2 265.0 275.6 265.8 275.3 266.4 275.5 267.0 275.8 268.0 276.8 269.5 278.7 270.1 279.6 270.6 280.6 271.2 282.3 271.7 284.7 271.7 285.3 271.8 285.8 271.8 287.2 271.5 289.5 270.6 293.1 270.6 294.6 270.9 296.4 270.9 297.5 270.7 298.4 270.4 299.2 269.8 300.2 268.9 301.1 268.0 301.7 258.2 308.4 257.3 308.9 256.1 309.3 254.6 309.6 252.8 309.8 233.7 311.7 232.8 311.7 232.3 311.8 229.9 311.5 227.7 311.5 224.7 311.9Z M225.0 311.1 224.0 311.2 221.9 310.9 221.0 310.7 219.9 310.3 218.6 309.6 217.4 308.6 216.4 307.3 216.0 306.2 215.9 305.5 215.9 304.9 216.0 304.2 216.4 303.2 217.0 302.3 217.5 301.7 218.4 301.0 220.3 299.9 221.3 299.2 222.0 298.4 222.7 297.2 223.0 296.0 223.1 294.6 223.1 290.6 222.9 289.1 222.3 286.8 222.3 285.6 222.7 284.0 223.1 283.2 224.0 282.1 225.0 281.3 225.8 280.8 226.6 280.4 227.8 280.1 229.3 279.9 230.8 280.1 232.0 280.4 233.4 281.1 234.5 282.0 235.3 283.0 235.9 284.0 236.1 284.8 236.3 285.6 236.3 286.8 235.9 288.4 234.5 291.0 234.2 291.9 233.9 293.0 233.7 294.9 233.7 297.0 233.9 297.8 234.3 298.6 234.6 299.0 235.5 299.8 236.1 300.1 236.8 300.4 237.9 300.5 238.8 300.5 239.4 300.4 240.7 300.4 241.3 300.3 246.1 300.1 246.6 300.0 249.7 299.9 252.1 299.7 252.8 299.6 253.8 299.3 255.0 298.7 256.8 297.7 258.9 296.3 260.3 294.9 260.8 293.9 261.0 293.4 261.1 292.1 261.0 291.1 260.4 288.2 260.3 287.1 260.3 285.9 260.6 283.6 260.9 282.4 261.4 280.9 261.9 279.9 262.8 278.7 264.5 276.9 265.3 276.2 265.8 276.1 266.2 276.2 266.6 276.5 267.4 277.3 268.9 279.1 269.5 279.9 270.0 280.9 270.5 282.4 270.8 283.6 271.0 284.8 271.1 285.9 271.1 287.1 270.8 289.4 269.9 293.1 269.9 294.7 270.2 296.5 270.2 297.4 270.0 298.2 269.8 298.9 269.2 299.7 268.4 300.5 267.6 301.1 257.9 307.8 257.0 308.3 255.6 308.7 252.7 309.1 233.6 311.0 232.3 311.1 229.9 310.8 227.7 310.8 225.7 311.1 225.0 311.1Z M224.8 310.4 224.1 310.5 223.1 310.4 221.3 310.0 220.1 309.6 219.0 309.0 217.9 308.1 217.0 306.9 216.7 306.0 216.6 305.0 216.7 304.4 217.0 303.5 217.9 302.3 219.0 301.4 220.7 300.5 221.7 299.8 222.5 298.9 222.9 298.3 223.3 297.5 223.7 296.1 223.8 294.6 223.8 290.6 223.6 289.0 223.0 286.7 223.0 285.7 223.3 284.5 223.7 283.6 224.5 282.6 225.4 281.9 226.2 281.4 227.6 280.9 229.3 280.7 230.1 280.7 231.4 281.0 232.5 281.4 234.0 282.5 234.4 283.0 234.9 283.6 235.4 284.8 235.6 285.7 235.6 286.7 235.2 288.1 233.8 290.8 233.3 292.3 233.1 293.7 233.0 295.1 233.0 296.9 233.2 298.0 233.7 298.9 234.1 299.5 235.0 300.3 235.8 300.8 236.7 301.1 237.9 301.2 240.8 301.1 241.4 301.0 242.6 301.0 243.2 300.9 244.4 300.9 245.0 300.8 251.1 300.5 253.0 300.2 254.1 299.9 255.3 299.4 258.0 297.8 259.5 296.8 260.9 295.3 261.5 294.2 261.7 293.5 261.8 292.6 261.8 292.0 261.1 288.1 261.0 286.0 261.2 284.3 261.6 282.6 262.1 281.2 262.5 280.4 263.1 279.5 264.1 278.3 265.0 277.4 265.8 276.8 266.1 277.0 266.8 277.7 268.3 279.5 268.9 280.3 269.3 281.1 269.8 282.6 270.3 284.9 270.4 287.0 270.1 289.3 269.2 293.0 269.2 294.7 269.5 296.6 269.5 297.3 269.4 297.8 269.1 298.6 268.6 299.3 268.0 299.9 267.2 300.5 257.5 307.2 256.7 307.6 255.5 308.0 252.6 308.4 233.5 310.3 232.3 310.3 230.0 310.1 227.7 310.1 225.6 310.4 224.8 310.4Z M224.6 309.7 224.2 309.8 223.2 309.6 221.5 309.3 220.4 308.9 219.4 308.4 218.5 307.6 217.7 306.6 217.4 305.8 217.3 305.1 217.7 303.9 218.5 302.8 219.3 302.1 221.1 301.1 222.2 300.3 223.2 299.2 223.6 298.6 224.0 297.7 224.4 296.2 224.5 294.7 224.5 290.6 224.3 288.9 223.8 286.7 223.8 285.8 223.9 285.0 224.3 284.0 225.0 283.1 225.9 282.4 227.1 281.8 228.0 281.5 229.3 281.4 230.1 281.5 231.2 281.7 232.2 282.1 233.1 282.7 233.9 283.5 234.3 284.0 234.7 285.1 234.8 285.8 234.8 286.6 234.5 287.9 233.3 290.3 232.9 291.2 232.5 292.7 232.3 294.8 232.2 296.6 232.3 297.3 232.6 298.3 233.1 299.3 233.6 300.0 234.6 300.9 235.5 301.4 236.5 301.8 237.8 301.9 240.8 301.8 241.5 301.8 242.6 301.7 243.3 301.6 244.4 301.6 245.1 301.6 251.2 301.2 253.2 300.9 254.3 300.6 255.7 300.0 258.4 298.4 260.0 297.3 261.1 296.2 261.5 295.7 262.1 294.5 262.4 293.7 262.5 292.6 262.5 292.0 262.4 290.9 261.9 288.0 261.8 286.1 262.0 283.8 262.3 282.8 262.8 281.4 263.1 280.7 263.9 279.6 264.7 278.7 265.8 277.7 267.0 279.0 267.9 280.1 268.6 281.4 269.1 282.8 269.5 284.3 269.6 286.1 269.6 286.9 269.5 288.7 268.6 292.0 268.5 293.0 268.5 294.8 268.8 296.7 268.8 297.2 268.6 297.9 268.1 298.8 267.5 299.4 259.2 305.2 256.5 306.9 255.6 307.2 254.3 307.4 233.4 309.6 232.3 309.6 230.0 309.4 227.6 309.4 224.6 309.7Z M224.5 309.0 223.2 308.9 222.1 308.7 221.2 308.5 220.2 308.0 219.3 307.4 218.6 306.7 218.3 306.2 218.1 305.2 218.3 304.2 219.0 303.3 219.7 302.7 221.5 301.7 222.7 300.8 223.7 299.7 224.2 299.0 224.7 298.0 225.1 296.4 225.3 294.8 225.3 290.6 225.1 289.2 224.5 286.6 224.5 285.8 224.7 284.9 225.0 284.3 225.6 283.6 226.3 283.0 227.4 282.4 228.1 282.3 229.3 282.1 230.5 282.3 231.2 282.4 232.3 283.0 233.0 283.6 233.6 284.3 233.9 284.8 234.1 285.5 234.1 286.6 233.9 287.6 232.5 290.3 232.2 291.1 231.9 292.0 231.7 293.5 231.5 295.0 231.5 297.0 231.8 298.2 232.1 299.0 232.7 300.1 233.7 301.1 234.4 301.7 235.3 302.1 236.3 302.5 237.7 302.7 238.9 302.7 239.7 302.6 240.8 302.6 246.9 302.2 249.8 302.1 252.3 301.8 253.3 301.7 254.6 301.3 256.0 300.6 258.0 299.5 260.3 298.0 261.6 296.7 262.1 296.1 262.8 294.8 263.1 293.8 263.3 292.7 263.3 291.9 263.1 290.7 262.7 288.6 262.5 286.2 262.8 283.9 263.0 283.0 263.4 281.7 264.2 280.4 265.7 278.7 265.8 278.7 266.4 279.4 267.5 280.9 268.0 281.7 268.4 283.0 268.7 284.4 268.9 286.2 268.7 288.6 267.9 291.8 267.7 292.9 267.7 294.8 268.0 296.8 268.0 297.5 267.8 297.9 267.5 298.4 267.1 298.8 266.3 299.4 256.9 305.8 256.2 306.3 255.7 306.4 254.3 306.7 234.5 308.7 232.3 308.9 230.0 308.6 227.6 308.6 224.5 309.0Z M224.3 308.3 222.3 308.0 221.5 307.8 220.6 307.4 219.8 306.9 219.2 306.3 219.0 305.9 218.8 305.2 219.0 304.5 219.5 303.8 220.1 303.3 222.7 301.7 223.9 300.6 224.7 299.5 225.4 298.2 225.8 296.5 226.0 294.8 226.0 290.6 225.8 289.1 225.2 286.5 225.2 285.9 225.4 285.2 225.6 284.7 226.1 284.1 226.7 283.6 227.7 283.1 228.7 282.9 229.9 282.9 230.8 283.1 231.9 283.6 232.5 284.1 233.0 284.7 233.3 285.4 233.4 286.0 233.3 286.9 233.1 287.5 231.9 289.8 231.5 290.9 231.1 292.5 230.8 294.7 230.8 296.8 230.9 297.7 231.3 299.0 232.1 300.4 233.2 301.6 233.8 302.1 234.8 302.7 235.7 303.0 236.5 303.2 237.9 303.4 240.9 303.3 251.3 302.7 253.5 302.3 254.8 302.0 256.3 301.3 259.2 299.6 260.9 298.4 262.2 297.1 262.8 296.4 263.5 295.0 263.8 294.0 264.0 292.7 264.0 291.9 263.8 290.6 263.4 288.5 263.2 286.3 263.5 284.0 263.9 282.5 264.4 281.4 265.0 280.5 265.7 279.7 266.4 280.5 267.0 281.4 267.5 282.5 267.9 284.0 268.2 286.3 268.0 288.8 267.3 291.6 267.0 292.8 267.0 294.9 267.3 296.8 267.3 297.1 267.2 297.6 266.6 298.3 265.9 298.8 256.4 305.3 255.5 305.8 254.2 306.0 234.4 308.0 232.3 308.1 230.0 307.9 227.5 307.9 224.3 308.3Z M224.9 307.5 224.3 307.6 223.0 307.4 222.1 307.2 221.3 306.9 220.5 306.5 220.0 306.1 219.6 305.6 219.5 305.2 219.8 304.6 220.3 304.1 223.1 302.3 224.4 301.2 225.3 299.9 226.1 298.4 226.5 296.6 226.7 294.9 226.7 290.6 226.5 289.1 225.9 286.6 225.9 286.0 226.2 285.1 226.6 284.6 227.1 284.2 228.0 283.8 228.8 283.6 229.8 283.6 230.6 283.8 231.5 284.2 232.0 284.6 232.4 285.1 232.6 285.6 232.7 286.4 232.5 287.0 231.2 289.6 230.8 290.6 230.5 291.6 230.1 294.6 230.1 296.7 230.2 297.6 230.4 298.6 231.0 300.1 231.8 301.2 233.0 302.4 233.9 303.0 235.0 303.6 236.2 303.9 237.7 304.1 239.0 304.1 249.9 303.5 252.5 303.3 253.6 303.1 255.0 302.7 256.3 302.1 258.7 300.7 261.0 299.2 261.8 298.6 263.1 297.2 263.6 296.4 264.3 295.0 264.5 294.1 264.7 292.8 264.7 291.9 264.6 290.8 264.1 288.4 263.9 286.7 264.0 285.2 264.2 284.2 264.4 283.3 264.8 282.2 265.1 281.6 265.7 280.9 266.3 281.7 266.8 282.8 267.1 283.7 267.3 284.6 267.5 286.3 267.3 288.7 266.5 291.5 266.3 292.8 266.3 294.8 266.6 296.9 266.6 297.2 266.1 297.7 265.4 298.3 256.0 304.7 255.3 305.1 254.1 305.3 233.2 307.4 231.7 307.4 230.0 307.2 227.6 307.2 224.9 307.5Z M224.6 306.8 224.3 306.8 223.4 306.8 222.0 306.4 220.9 305.9 220.5 305.5 220.3 305.2 220.5 304.9 220.9 304.5 223.5 302.9 224.8 301.8 225.4 301.1 225.9 300.3 226.8 298.6 227.1 297.6 227.3 296.2 227.4 294.5 227.4 290.6 227.2 288.9 226.8 287.0 226.6 286.1 226.8 285.5 227.1 285.1 227.5 284.8 228.5 284.4 229.3 284.3 230.1 284.4 230.8 284.6 231.3 285.0 231.8 285.5 231.9 285.9 232.0 286.3 231.9 286.7 230.5 289.4 230.1 290.4 229.8 291.4 229.6 292.5 229.4 294.5 229.4 296.8 229.5 297.7 229.7 298.8 230.4 300.4 231.2 301.6 232.4 302.9 233.4 303.6 234.7 304.2 236.0 304.6 237.6 304.8 239.0 304.8 250.0 304.2 252.6 304.0 253.7 303.8 255.2 303.4 256.6 302.8 259.1 301.3 261.5 299.8 263.1 298.3 263.8 297.4 264.3 296.7 264.9 295.3 265.2 294.4 265.4 293.1 265.4 291.6 265.2 290.3 264.8 288.3 264.6 286.4 264.7 285.2 265.0 283.9 265.4 282.6 265.7 282.0 265.7 282.1 266.1 283.0 266.5 284.3 266.8 286.4 266.6 288.5 265.8 291.3 265.6 292.7 265.6 294.8 265.8 297.0 264.0 298.4 255.6 304.1 255.0 304.4 254.0 304.6 233.2 306.7 231.8 306.7 230.0 306.5 227.6 306.5 224.6 306.8Z M265.7 289.0 265.5 288.2 265.4 286.5 265.5 285.3 265.7 284.0 265.9 284.8 266.1 286.5 265.9 288.2 265.7 289.0Z M224.4 306.1 223.5 306.0 222.5 305.8 221.8 305.6 221.2 305.2 223.2 304.0 224.1 303.4 224.8 302.8 226.1 301.3 226.7 300.4 227.2 299.4 227.6 298.2 227.9 297.0 228.1 294.5 228.1 290.0 227.9 288.7 227.5 286.8 227.4 286.1 227.4 285.9 227.7 285.6 228.5 285.1 229.3 285.0 230.1 285.1 230.6 285.4 231.0 285.7 231.2 285.9 231.2 286.3 230.0 288.8 229.6 289.8 229.3 290.7 228.9 292.2 228.7 294.6 228.7 296.8 228.8 298.0 229.2 299.4 229.8 300.8 230.4 301.8 231.1 302.6 232.4 303.8 233.4 304.4 234.6 304.9 235.8 305.3 237.2 305.5 233.1 305.9 231.8 305.9 230.1 305.8 227.6 305.8 224.4 306.1Z M228.8 289.6 228.1 286.2 228.4 286.0 228.8 285.8 229.3 285.7 229.9 285.8 230.5 286.2 228.8 289.6Z M225.3 305.3 224.3 305.4 223.3 305.3 222.9 305.2 222.7 305.1 224.7 303.8 226.2 302.4 227.3 300.8 227.9 299.7 228.2 298.8 228.9 300.6 229.4 301.6 230.0 302.4 231.5 304.0 233.2 305.2 232.3 305.3 230.2 305.0 227.6 305.0 225.3 305.3Z M229.1 287.3 228.9 286.6 229.0 286.5 229.5 286.5 229.1 287.3Z M225.1 304.6 224.9 304.6 225.7 303.9 226.8 302.8 227.4 302.0 228.1 300.9 228.2 300.9 228.7 301.9 229.4 302.8 230.8 304.3 230.7 304.4 227.2 304.3 225.1 304.6Z" fill="none" stroke="#124f87" stroke-width="0.6" stroke-opacity="1.0" stroke-linejoin="round"/>
<path d="M225.4 313.2 223.2 313.2 223.1 313.1 222.3 313.1 222.2 313.0 221.7 313.0 221.6 312.9 221.3 312.9 221.2 312.8 220.9 312.8 220.8 312.7 220.5 312.7 220.4 312.6 219.9 312.5 219.6 312.3 219.4 312.3 218.0 311.6 217.5 311.2 217.1 311.0 216.7 310.6 216.6 310.6 215.6 309.6 215.6 309.5 215.2 309.1 214.9 308.5 214.7 308.3 214.5 307.9 214.5 307.7 214.3 307.4 214.2 306.9 214.1 306.8 214.1 306.4 214.0 306.3 214.0 305.4 213.9 305.3 213.9 305.1 214.0 305.0 214.0 304.1 214.1 304.0 214.1 303.6 214.2 303.5 214.3 303.0 214.5 302.7 214.5 302.5 214.7 302.1 214.9 301.9 215.2 301.3 215.6 300.9 215.6 300.8 216.6 299.8 216.7 299.8 217.1 299.4 217.2 299.4 218.0 298.8 219.4 298.1 219.6 298.1 219.9 297.9 220.1 297.9 220.5 297.7 220.8 297.7 220.9 297.6 221.2 297.6 221.3 297.5 221.6 297.5 221.7 297.4 222.2 297.4 222.3 297.3 223.1 297.3 223.2 297.2 225.4 297.2 225.5 297.3 226.3 297.3 226.4 297.4 226.9 297.4 227.0 297.5 227.3 297.5 227.4 297.6 227.7 297.6 227.8 297.7 228.1 297.7 228.2 297.8 228.7 297.9 229.0 298.1 229.2 298.1 230.6 298.8 230.8 299.0 231.5 299.4 231.9 299.8 232.0 299.8 233.4 301.3 233.7 301.9 233.9 302.1 234.1 302.5 234.1 302.7 234.3 303.0 234.3 303.2 234.5 303.6 234.5 304.0 234.6 304.1 234.6 304.9 234.7 305.0 234.7 305.4 234.6 305.5 234.6 306.3 234.5 306.4 234.5 306.8 234.4 306.9 234.3 307.4 234.1 307.7 234.1 307.9 233.9 308.3 233.7 308.5 233.6 308.8 233.0 309.5 233.0 309.6 231.5 311.0 231.4 311.0 230.6 311.6 229.2 312.3 229.0 312.3 228.7 312.5 228.5 312.5 228.1 312.7 227.8 312.7 227.7 312.8 227.4 312.8 227.3 312.9 227.0 312.9 226.9 313.0 226.4 313.0 226.3 313.1 225.5 313.1 225.4 313.2Z" fill="#124f87" fill-opacity="1.0"/>
<path d="M234.9 311.6 233.8 311.6 233.7 311.5 233.0 311.5 232.9 311.4 232.2 311.3 231.9 311.1 231.7 311.1 231.3 310.9 231.1 310.7 230.7 310.5 229.5 309.3 229.5 309.2 229.1 308.7 228.9 308.3 228.9 308.1 228.7 307.8 228.6 307.1 228.5 307.0 228.5 305.0 228.6 304.9 228.6 304.6 228.7 304.5 228.7 304.2 228.9 303.9 228.9 303.7 229.1 303.3 229.5 302.8 229.5 302.7 230.7 301.5 230.8 301.5 231.0 301.3 231.7 300.9 231.9 300.9 232.2 300.7 232.8 300.6 232.9 300.5 233.4 300.5 233.5 300.4 234.2 300.4 234.3 300.3 236.2 300.3 236.3 300.2 238.6 300.2 238.7 300.1 240.9 300.1 241.0 300.0 243.2 300.0 243.3 299.9 245.6 299.9 245.7 299.8 247.9 299.8 248.0 299.7 250.2 299.7 250.3 299.6 252.1 299.6 252.2 299.5 252.9 299.5 253.0 299.4 253.7 299.3 254.0 299.1 254.2 299.1 255.2 298.6 255.4 298.4 255.9 298.2 256.6 297.7 257.1 297.5 257.8 297.0 259.0 296.4 259.2 296.2 260.2 295.7 260.4 295.5 261.4 295.0 261.6 294.8 263.2 294.0 263.4 294.0 263.8 293.8 264.1 293.8 264.2 293.7 265.7 293.7 265.8 293.8 266.2 293.8 266.3 293.9 266.5 293.9 267.3 294.3 267.5 294.5 267.6 294.5 268.5 295.4 269.1 296.5 269.2 297.1 269.3 297.2 269.3 298.8 269.2 298.9 269.1 299.5 268.5 300.6 267.2 301.9 267.1 301.9 266.0 302.8 265.6 303.0 265.0 303.5 264.9 303.5 264.2 304.1 263.8 304.3 263.1 304.9 263.0 304.9 262.4 305.4 262.0 305.6 261.7 305.9 261.6 305.9 261.3 306.2 260.9 306.4 260.6 306.7 260.5 306.7 259.9 307.2 259.8 307.2 259.5 307.5 259.1 307.7 258.8 308.0 258.7 308.0 257.9 308.6 256.7 309.2 256.1 309.3 256.0 309.4 255.7 309.4 255.6 309.5 255.1 309.5 255.0 309.6 254.3 309.6 254.2 309.7 253.3 309.7 253.2 309.8 251.3 309.9 251.2 310.0 250.3 310.0 250.2 310.1 249.3 310.1 249.2 310.2 248.3 310.2 248.2 310.3 246.3 310.4 246.2 310.5 244.3 310.6 244.2 310.7 242.3 310.8 242.2 310.9 240.3 311.0 240.2 311.1 239.3 311.1 239.2 311.2 238.3 311.2 238.2 311.3 236.3 311.4 236.2 311.5 235.0 311.5 234.9 311.6Z" fill="#124f87" fill-opacity="0.7"/>
<path d="M266.6 293.6 265.2 293.6 265.1 293.5 264.8 293.5 264.7 293.4 264.2 293.3 263.6 293.0 263.0 292.5 262.9 292.5 262.1 291.7 262.1 291.6 261.8 291.3 261.8 291.2 261.4 290.7 260.8 289.5 260.8 289.3 260.7 289.2 260.5 288.4 260.4 288.3 260.4 287.9 260.3 287.8 260.3 287.4 260.2 287.3 260.2 286.5 260.1 286.4 260.1 284.6 260.2 284.5 260.2 283.7 260.3 283.6 260.4 282.7 260.5 282.6 260.5 282.4 260.6 282.3 260.8 281.5 261.4 280.3 261.6 280.1 261.8 279.7 262.1 279.4 262.1 279.3 262.9 278.5 263.0 278.5 263.6 278.0 264.2 277.7 264.4 277.7 264.8 277.5 265.1 277.5 265.2 277.4 266.6 277.4 266.7 277.5 267.0 277.5 267.1 277.6 267.6 277.7 268.2 278.0 268.8 278.5 268.9 278.5 269.7 279.3 269.7 279.4 270.0 279.7 270.0 279.8 270.4 280.3 271.0 281.5 271.0 281.7 271.1 281.8 271.1 282.0 271.2 282.1 271.2 282.3 271.4 282.7 271.4 283.0 271.5 283.1 271.5 283.6 271.6 283.7 271.6 284.4 271.7 284.5 271.7 286.5 271.6 286.6 271.6 287.3 271.5 287.4 271.5 287.9 271.4 288.0 271.4 288.3 271.2 288.7 271.0 289.5 270.4 290.7 270.2 290.9 270.0 291.3 269.7 291.6 269.7 291.7 268.9 292.5 268.8 292.5 268.2 293.0 267.6 293.3 267.4 293.3 267.0 293.5 266.7 293.5 266.6 293.6Z" fill="#124f87" fill-opacity="0.8"/>
<path d="M229.2 296.0 228.8 296.0 228.7 295.9 227.9 295.9 227.8 295.8 227.4 295.8 227.3 295.7 226.8 295.6 225.6 295.0 225.3 294.7 225.2 294.7 224.9 294.4 224.8 294.4 224.2 293.8 223.3 292.6 222.7 291.4 222.7 291.2 222.5 290.8 222.5 290.5 222.4 290.4 222.4 290.0 222.3 289.9 222.3 289.1 222.2 289.0 222.2 288.0 222.3 287.9 222.3 287.1 222.4 287.0 222.5 286.2 222.6 286.1 222.7 285.6 223.3 284.4 223.7 283.9 223.7 283.8 224.0 283.5 224.0 283.4 224.8 282.6 224.9 282.6 225.2 282.3 225.3 282.3 225.6 282.0 226.8 281.4 227.0 281.4 227.4 281.2 227.8 281.2 227.9 281.1 228.8 281.1 228.9 281.0 229.1 281.0 229.2 281.1 230.1 281.1 230.2 281.2 230.6 281.2 230.7 281.3 231.2 281.4 232.4 282.0 232.7 282.3 232.8 282.3 233.1 282.6 233.2 282.6 234.3 283.8 234.3 283.9 234.7 284.4 235.3 285.6 235.3 285.8 235.5 286.2 235.5 286.5 235.6 286.6 235.6 287.0 235.7 287.1 235.7 287.8 235.8 287.9 235.8 289.1 235.7 289.2 235.7 289.9 235.6 290.0 235.5 290.8 235.3 291.2 235.3 291.4 234.7 292.6 234.5 292.8 234.3 293.2 234.0 293.5 234.0 293.6 233.2 294.4 233.1 294.4 232.8 294.7 232.7 294.7 232.4 295.0 231.2 295.6 231.0 295.6 230.6 295.8 230.2 295.8 230.1 295.9 229.3 295.9 229.2 296.0Z" fill="#124f87" fill-opacity="0.45"/>
<ellipse cx="265.9" cy="284.7" rx="1.6" ry="1.8" fill="#fff" fill-opacity="0.8"/>
<ellipse cx="265.9" cy="284.7" rx="0.7" ry="0.8" fill="#124f87"/>
<ellipse cx="228.4" cy="287.0" rx="1.9" ry="1.8" fill="#fff" fill-opacity="0.75"/>
<ellipse cx="228.4" cy="287.0" rx="0.8" ry="0.8" fill="#124f87" fill-opacity="0.6"/>
<path d="M236.5 306.5 L255 304.5 M256 303.5 L264 297.5" stroke="#fff" stroke-width="0.7" stroke-dasharray="1.5 1.1" stroke-opacity="0.75"/>
<path d="M263.3 274.6 C263.6 272.5 262.2 271 262.2 268.3 C262.2 265.6 263.8 264.3 265.8 264.3 C267.8 264.3 269.3 265.7 269.2 268.3 C269.1 271 267.8 272.4 268.2 274.6" fill="none" stroke="#124f87" stroke-width="0.6" stroke-opacity="0.85"/>
<ellipse cx="265.7" cy="268.6" rx="1.1" ry="1.3" fill="none" stroke="#124f87" stroke-width="0.55" stroke-opacity="0.85"/>
<rect x="254.5" y="260.6" width="21.80000000000001" height="32.19999999999999" fill="none" stroke="#000" stroke-width="1.0"/>
<text x="265.5" y="257.8" font-size="7.6" text-anchor="middle" font-weight="normal" fill="#000" >6.31%</text>
<text x="157.5" y="355.2" font-size="9.1" text-anchor="middle" font-weight="bold" fill="#c8102e" >CD45.1</text>
<text x="246.6" y="355.2" font-size="9.1" text-anchor="middle" font-weight="bold" fill="#1c5a94" >CD45.2</text>
<text x="156.4" y="365.4" font-size="7.05" text-anchor="middle" font-weight="normal" fill="#000" >CD3 (T cells)/B220 (B cells)</text>
<text x="246.2" y="365.4" font-size="7.05" text-anchor="middle" font-weight="normal" fill="#000" >CD3 (T cells)/B220 (B cells)</text>
<rect x="120.4" y="368.9" width="74.5" height="74.40000000000003" fill="none" stroke="#222" stroke-width="1.0"/>
<rect x="209.7" y="368.8" width="74.40000000000003" height="74.5" fill="none" stroke="#222" stroke-width="1.0"/>
<line x1="118.2" y1="434.9" x2="120.4" y2="434.9" stroke="#000" stroke-width="0.8"/><line x1="118.2" y1="424.9" x2="120.4" y2="424.9" stroke="#000" stroke-width="0.8"/><line x1="118.2" y1="414.9" x2="120.4" y2="414.9" stroke="#000" stroke-width="0.8"/><line x1="118.2" y1="395.9" x2="120.4" y2="395.9" stroke="#000" stroke-width="0.8"/><line x1="118.2" y1="376.9" x2="120.4" y2="376.9" stroke="#000" stroke-width="0.8"/><line x1="119.10000000000001" y1="409.2" x2="120.4" y2="409.2" stroke="#000" stroke-width="0.5"/><line x1="119.10000000000001" y1="405.8" x2="120.4" y2="405.8" stroke="#000" stroke-width="0.5"/><line x1="119.10000000000001" y1="403.5" x2="120.4" y2="403.5" stroke="#000" stroke-width="0.5"/><line x1="119.10000000000001" y1="401.6" x2="120.4" y2="401.6" stroke="#000" stroke-width="0.5"/><line x1="119.10000000000001" y1="400.1" x2="120.4" y2="400.1" stroke="#000" stroke-width="0.5"/><line x1="119.10000000000001" y1="398.8" x2="120.4" y2="398.8" stroke="#000" stroke-width="0.5"/><line x1="119.10000000000001" y1="397.7" x2="120.4" y2="397.7" stroke="#000" stroke-width="0.5"/><line x1="119.10000000000001" y1="396.8" x2="120.4" y2="396.8" stroke="#000" stroke-width="0.5"/><line x1="119.10000000000001" y1="390.2" x2="120.4" y2="390.2" stroke="#000" stroke-width="0.5"/><line x1="119.10000000000001" y1="386.8" x2="120.4" y2="386.8" stroke="#000" stroke-width="0.5"/><line x1="119.10000000000001" y1="384.5" x2="120.4" y2="384.5" stroke="#000" stroke-width="0.5"/><line x1="119.10000000000001" y1="382.6" x2="120.4" y2="382.6" stroke="#000" stroke-width="0.5"/><line x1="119.10000000000001" y1="381.1" x2="120.4" y2="381.1" stroke="#000" stroke-width="0.5"/><line x1="119.10000000000001" y1="379.8" x2="120.4" y2="379.8" stroke="#000" stroke-width="0.5"/><line x1="119.10000000000001" y1="378.7" x2="120.4" y2="378.7" stroke="#000" stroke-width="0.5"/><line x1="119.10000000000001" y1="377.8" x2="120.4" y2="377.8" stroke="#000" stroke-width="0.5"/><line x1="119.10000000000001" y1="431.8" x2="120.4" y2="431.8" stroke="#000" stroke-width="0.5"/><line x1="119.10000000000001" y1="428.5" x2="120.4" y2="428.5" stroke="#000" stroke-width="0.5"/><line x1="119.10000000000001" y1="421.6" x2="120.4" y2="421.6" stroke="#000" stroke-width="0.5"/><line x1="119.10000000000001" y1="418.3" x2="120.4" y2="418.3" stroke="#000" stroke-width="0.5"/>
<line x1="128.8" y1="443.3" x2="128.8" y2="445.5" stroke="#000" stroke-width="0.8"/><line x1="138.8" y1="443.3" x2="138.8" y2="445.5" stroke="#000" stroke-width="0.8"/><line x1="148.8" y1="443.3" x2="148.8" y2="445.5" stroke="#000" stroke-width="0.8"/><line x1="167.8" y1="443.3" x2="167.8" y2="445.5" stroke="#000" stroke-width="0.8"/><line x1="186.8" y1="443.3" x2="186.8" y2="445.5" stroke="#000" stroke-width="0.8"/><line x1="154.5" y1="443.3" x2="154.5" y2="444.6" stroke="#000" stroke-width="0.5"/><line x1="157.9" y1="443.3" x2="157.9" y2="444.6" stroke="#000" stroke-width="0.5"/><line x1="160.2" y1="443.3" x2="160.2" y2="444.6" stroke="#000" stroke-width="0.5"/><line x1="162.1" y1="443.3" x2="162.1" y2="444.6" stroke="#000" stroke-width="0.5"/><line x1="163.6" y1="443.3" x2="163.6" y2="444.6" stroke="#000" stroke-width="0.5"/><line x1="164.9" y1="443.3" x2="164.9" y2="444.6" stroke="#000" stroke-width="0.5"/><line x1="166.0" y1="443.3" x2="166.0" y2="444.6" stroke="#000" stroke-width="0.5"/><line x1="166.9" y1="443.3" x2="166.9" y2="444.6" stroke="#000" stroke-width="0.5"/><line x1="173.5" y1="443.3" x2="173.5" y2="444.6" stroke="#000" stroke-width="0.5"/><line x1="176.9" y1="443.3" x2="176.9" y2="444.6" stroke="#000" stroke-width="0.5"/><line x1="179.2" y1="443.3" x2="179.2" y2="444.6" stroke="#000" stroke-width="0.5"/><line x1="181.1" y1="443.3" x2="181.1" y2="444.6" stroke="#000" stroke-width="0.5"/><line x1="182.6" y1="443.3" x2="182.6" y2="444.6" stroke="#000" stroke-width="0.5"/><line x1="183.9" y1="443.3" x2="183.9" y2="444.6" stroke="#000" stroke-width="0.5"/><line x1="185.0" y1="443.3" x2="185.0" y2="444.6" stroke="#000" stroke-width="0.5"/><line x1="185.9" y1="443.3" x2="185.9" y2="444.6" stroke="#000" stroke-width="0.5"/><line x1="131.9" y1="443.3" x2="131.9" y2="444.6" stroke="#000" stroke-width="0.5"/><line x1="135.2" y1="443.3" x2="135.2" y2="444.6" stroke="#000" stroke-width="0.5"/><line x1="142.1" y1="443.3" x2="142.1" y2="444.6" stroke="#000" stroke-width="0.5"/><line x1="145.4" y1="443.3" x2="145.4" y2="444.6" stroke="#000" stroke-width="0.5"/>
<line x1="207.5" y1="434.9" x2="209.7" y2="434.9" stroke="#000" stroke-width="0.8"/><line x1="207.5" y1="424.9" x2="209.7" y2="424.9" stroke="#000" stroke-width="0.8"/><line x1="207.5" y1="414.9" x2="209.7" y2="414.9" stroke="#000" stroke-width="0.8"/><line x1="207.5" y1="395.9" x2="209.7" y2="395.9" stroke="#000" stroke-width="0.8"/><line x1="207.5" y1="376.9" x2="209.7" y2="376.9" stroke="#000" stroke-width="0.8"/><line x1="208.39999999999998" y1="409.2" x2="209.7" y2="409.2" stroke="#000" stroke-width="0.5"/><line x1="208.39999999999998" y1="405.8" x2="209.7" y2="405.8" stroke="#000" stroke-width="0.5"/><line x1="208.39999999999998" y1="403.5" x2="209.7" y2="403.5" stroke="#000" stroke-width="0.5"/><line x1="208.39999999999998" y1="401.6" x2="209.7" y2="401.6" stroke="#000" stroke-width="0.5"/><line x1="208.39999999999998" y1="400.1" x2="209.7" y2="400.1" stroke="#000" stroke-width="0.5"/><line x1="208.39999999999998" y1="398.8" x2="209.7" y2="398.8" stroke="#000" stroke-width="0.5"/><line x1="208.39999999999998" y1="397.7" x2="209.7" y2="397.7" stroke="#000" stroke-width="0.5"/><line x1="208.39999999999998" y1="396.8" x2="209.7" y2="396.8" stroke="#000" stroke-width="0.5"/><line x1="208.39999999999998" y1="390.2" x2="209.7" y2="390.2" stroke="#000" stroke-width="0.5"/><line x1="208.39999999999998" y1="386.8" x2="209.7" y2="386.8" stroke="#000" stroke-width="0.5"/><line x1="208.39999999999998" y1="384.5" x2="209.7" y2="384.5" stroke="#000" stroke-width="0.5"/><line x1="208.39999999999998" y1="382.6" x2="209.7" y2="382.6" stroke="#000" stroke-width="0.5"/><line x1="208.39999999999998" y1="381.1" x2="209.7" y2="381.1" stroke="#000" stroke-width="0.5"/><line x1="208.39999999999998" y1="379.8" x2="209.7" y2="379.8" stroke="#000" stroke-width="0.5"/><line x1="208.39999999999998" y1="378.7" x2="209.7" y2="378.7" stroke="#000" stroke-width="0.5"/><line x1="208.39999999999998" y1="377.8" x2="209.7" y2="377.8" stroke="#000" stroke-width="0.5"/><line x1="208.39999999999998" y1="431.8" x2="209.7" y2="431.8" stroke="#000" stroke-width="0.5"/><line x1="208.39999999999998" y1="428.5" x2="209.7" y2="428.5" stroke="#000" stroke-width="0.5"/><line x1="208.39999999999998" y1="421.6" x2="209.7" y2="421.6" stroke="#000" stroke-width="0.5"/><line x1="208.39999999999998" y1="418.3" x2="209.7" y2="418.3" stroke="#000" stroke-width="0.5"/>
<line x1="218.1" y1="443.3" x2="218.1" y2="445.5" stroke="#000" stroke-width="0.8"/><line x1="228.1" y1="443.3" x2="228.1" y2="445.5" stroke="#000" stroke-width="0.8"/><line x1="238.1" y1="443.3" x2="238.1" y2="445.5" stroke="#000" stroke-width="0.8"/><line x1="257.1" y1="443.3" x2="257.1" y2="445.5" stroke="#000" stroke-width="0.8"/><line x1="276.1" y1="443.3" x2="276.1" y2="445.5" stroke="#000" stroke-width="0.8"/><line x1="243.8" y1="443.3" x2="243.8" y2="444.6" stroke="#000" stroke-width="0.5"/><line x1="247.2" y1="443.3" x2="247.2" y2="444.6" stroke="#000" stroke-width="0.5"/><line x1="249.5" y1="443.3" x2="249.5" y2="444.6" stroke="#000" stroke-width="0.5"/><line x1="251.4" y1="443.3" x2="251.4" y2="444.6" stroke="#000" stroke-width="0.5"/><line x1="252.9" y1="443.3" x2="252.9" y2="444.6" stroke="#000" stroke-width="0.5"/><line x1="254.2" y1="443.3" x2="254.2" y2="444.6" stroke="#000" stroke-width="0.5"/><line x1="255.3" y1="443.3" x2="255.3" y2="444.6" stroke="#000" stroke-width="0.5"/><line x1="256.2" y1="443.3" x2="256.2" y2="444.6" stroke="#000" stroke-width="0.5"/><line x1="262.8" y1="443.3" x2="262.8" y2="444.6" stroke="#000" stroke-width="0.5"/><line x1="266.2" y1="443.3" x2="266.2" y2="444.6" stroke="#000" stroke-width="0.5"/><line x1="268.5" y1="443.3" x2="268.5" y2="444.6" stroke="#000" stroke-width="0.5"/><line x1="270.4" y1="443.3" x2="270.4" y2="444.6" stroke="#000" stroke-width="0.5"/><line x1="271.9" y1="443.3" x2="271.9" y2="444.6" stroke="#000" stroke-width="0.5"/><line x1="273.2" y1="443.3" x2="273.2" y2="444.6" stroke="#000" stroke-width="0.5"/><line x1="274.3" y1="443.3" x2="274.3" y2="444.6" stroke="#000" stroke-width="0.5"/><line x1="275.2" y1="443.3" x2="275.2" y2="444.6" stroke="#000" stroke-width="0.5"/><line x1="221.2" y1="443.3" x2="221.2" y2="444.6" stroke="#000" stroke-width="0.5"/><line x1="224.5" y1="443.3" x2="224.5" y2="444.6" stroke="#000" stroke-width="0.5"/><line x1="231.4" y1="443.3" x2="231.4" y2="444.6" stroke="#000" stroke-width="0.5"/><line x1="234.7" y1="443.3" x2="234.7" y2="444.6" stroke="#000" stroke-width="0.5"/>
<line x1="111.4" y1="372" x2="111.4" y2="396.4" stroke="#333" stroke-width="1"/>
<path d="M108.7 373.8 L111.4 368.5 L114.1 373.8 Z" fill="#000"/>
<line x1="111.4" y1="416.2" x2="111.4" y2="444.8" stroke="#333" stroke-width="1"/>
<text transform="translate(113.9,406) rotate(-90)" font-size="7.6" text-anchor="middle">Cd3</text>
<line x1="120.8" y1="452.2" x2="192.3" y2="452.2" stroke="#333" stroke-width="1"/>
<line x1="213.2" y1="452.2" x2="277" y2="452.2" stroke="#333" stroke-width="1"/>
<path d="M276.2 449.6 L281.2 452.2 L276.2 454.8 Z" fill="#000"/>
<text x="202.8" y="454.9" font-size="7.7" text-anchor="middle" font-weight="normal" fill="#000" >B220</text>
<path d="M142.8 410.1 135.6 410.1 135.4 409.9 134.3 409.9 134.1 409.9 132.8 409.8 132.6 409.6 132.3 409.6 132.1 409.6 131.8 409.6 130.6 409.2 129.2 408.8 127.8 408.1 126.8 407.4 125.6 406.3 124.9 405.4 124.0 403.6 123.5 401.9 123.3 401.0 123.2 400.8 123.2 399.9 123.2 399.7 123.2 397.1 123.2 395.1 123.2 394.9 123.2 394.0 123.3 393.8 123.3 393.4 123.5 393.2 123.5 392.9 123.7 392.1 124.0 391.2 124.7 389.8 125.6 388.5 126.8 387.4 127.8 386.8 129.7 385.9 130.6 385.6 131.8 385.2 132.1 385.2 132.3 385.1 132.6 385.1 132.8 385.1 134.1 384.9 134.3 384.9 135.4 384.9 135.6 384.8 142.8 384.8 143.0 384.9 144.1 384.9 144.3 384.9 144.9 384.9 145.1 385.1 145.6 385.1 146.3 385.2 146.6 385.2 147.8 385.6 149.2 386.1 150.6 386.8 151.6 387.4 152.8 388.5 153.5 389.4 154.4 391.2 154.8 392.1 154.9 392.9 154.9 393.2 155.1 393.4 155.1 393.8 155.2 394.0 155.2 394.9 155.2 395.1 155.2 399.7 155.2 399.9 155.2 400.8 155.1 401.0 154.9 401.9 154.6 403.3 153.8 405.0 152.8 406.3 152.1 407.0 150.7 408.0 149.2 408.8 147.8 409.2 146.6 409.6 146.3 409.6 145.6 409.8 145.1 409.8 144.9 409.9 144.3 409.9 144.1 409.9 143.0 409.9 142.8 410.1Z M171.9 433.1 169.7 433.1 169.5 433.1 168.8 433.1 168.6 432.9 168.2 432.9 166.6 432.6 165.3 432.1 164.5 431.6 162.1 430.1 160.9 429.6 160.0 429.6 159.8 429.4 159.3 429.4 159.1 429.4 158.6 429.4 158.4 429.2 157.8 429.2 157.6 429.1 156.4 429.1 156.2 428.9 154.9 428.9 154.7 428.8 153.9 428.8 153.7 428.6 152.3 428.8 148.8 429.9 147.2 430.4 146.9 430.4 146.2 430.6 145.8 430.6 145.6 430.6 145.1 430.6 144.9 430.8 144.2 430.8 144.0 430.9 143.0 430.9 142.8 430.9 138.6 430.9 138.4 430.9 137.4 430.9 137.2 430.8 136.5 430.8 136.3 430.6 135.8 430.6 135.6 430.6 135.2 430.6 135.0 430.4 134.2 430.4 132.6 429.9 130.8 429.4 129.6 428.9 128.0 428.0 126.5 426.9 125.6 425.9 125.2 425.2 124.8 424.5 124.7 423.7 124.7 422.7 124.8 422.5 124.8 422.2 125.2 421.2 125.9 420.1 127.0 419.1 128.1 418.4 129.6 417.6 130.8 417.1 132.6 416.4 134.2 416.1 134.5 416.1 135.2 415.9 135.6 415.9 135.8 415.8 137.2 415.6 137.4 415.6 138.4 415.6 138.6 415.4 142.8 415.4 143.0 415.6 144.0 415.6 144.2 415.6 145.6 415.8 145.8 415.9 146.7 415.9 146.9 416.1 147.2 416.1 148.8 416.4 150.6 417.1 151.8 417.6 153.5 418.5 155.1 419.2 155.5 419.4 158.9 419.4 159.1 419.2 161.0 419.2 161.2 419.1 162.1 419.1 162.3 419.1 162.7 419.1 163.1 418.9 163.9 418.5 164.3 418.1 164.5 418.0 165.4 417.0 165.6 416.9 166.0 416.5 166.9 415.9 168.1 415.4 168.8 415.4 169.0 415.2 169.6 415.2 169.8 415.1 170.6 415.1 170.8 415.2 171.4 415.2 171.6 415.4 171.9 415.4 172.6 415.6 173.6 416.0 174.4 416.5 175.8 417.6 177.7 418.7 178.7 419.4 180.1 420.8 180.8 421.8 181.2 422.6 181.4 423.5 181.6 423.9 181.6 424.6 181.7 424.8 181.7 425.2 181.6 425.4 181.6 426.1 181.4 426.5 181.2 427.4 180.8 428.2 180.1 429.2 178.7 430.6 177.1 431.6 175.3 432.4 173.9 432.9 173.0 432.9 172.8 433.1 172.1 433.1 171.9 433.1Z M142.9 409.2 142.5 409.3 135.9 409.3 135.5 409.2 134.5 409.2 134.2 409.1 133.7 409.1 132.0 408.8 129.9 408.2 128.2 407.4 126.7 406.3 125.6 405.0 124.7 403.4 124.2 401.7 124.0 400.6 124.0 399.8 123.9 399.4 123.9 397.1 123.9 395.4 124.0 395.0 124.0 394.2 124.4 392.3 124.7 391.4 125.3 390.3 126.3 388.9 127.2 388.1 128.3 387.4 129.9 386.6 130.8 386.3 133.0 385.8 134.5 385.6 135.5 385.6 135.9 385.5 142.6 385.5 142.9 385.6 143.9 385.6 144.2 385.7 144.7 385.7 146.4 386.0 147.6 386.3 149.0 386.8 150.2 387.4 151.2 388.1 152.1 388.9 152.8 389.8 153.6 391.3 154.0 392.3 154.4 394.2 154.4 395.0 154.5 395.4 154.5 399.4 154.4 399.8 154.4 400.6 154.0 402.5 153.7 403.4 153.1 404.5 152.5 405.4 151.7 406.3 150.2 407.4 149.1 407.9 147.6 408.5 146.4 408.8 143.9 409.2 142.9 409.2Z M172.0 432.3 171.6 432.4 170.0 432.4 167.9 432.1 166.5 431.7 165.4 431.2 164.4 430.7 162.4 429.4 161.2 429.0 158.5 428.5 158.0 428.5 153.8 427.9 152.9 427.9 152.1 428.0 148.6 429.2 147.0 429.6 143.8 430.1 142.9 430.1 142.5 430.2 138.9 430.2 138.5 430.1 136.7 430.0 134.4 429.6 132.8 429.2 131.0 428.6 129.8 428.1 128.4 427.3 126.9 426.2 126.3 425.5 125.8 424.8 125.6 424.3 125.4 423.4 125.5 422.4 125.8 421.6 126.6 420.5 127.8 419.5 129.3 418.6 131.0 417.8 132.8 417.2 134.4 416.8 136.7 416.4 138.5 416.3 138.9 416.2 142.5 416.2 142.9 416.3 143.8 416.3 144.1 416.4 145.4 416.5 148.6 417.2 150.4 417.8 151.7 418.4 153.2 419.2 154.4 419.8 154.9 420.0 155.5 420.1 158.9 420.1 159.3 420.0 161.0 420.0 161.4 419.9 162.2 419.9 163.3 419.6 164.4 419.1 165.0 418.6 165.5 418.0 166.4 417.2 167.4 416.6 168.3 416.2 170.1 415.9 171.7 416.1 172.9 416.5 173.6 416.9 175.4 418.2 177.2 419.3 178.3 420.1 179.4 421.2 180.1 422.3 180.7 423.7 180.9 425.0 180.7 426.3 180.1 427.7 179.4 428.8 178.3 429.9 176.7 431.0 175.1 431.7 173.2 432.2 172.0 432.3Z M142.5 408.5 136.0 408.6 133.9 408.4 131.8 408.0 130.2 407.5 128.6 406.8 127.1 405.7 126.1 404.5 125.4 403.1 125.0 401.9 124.8 400.4 124.7 399.8 124.7 399.3 124.7 395.5 124.7 395.0 124.8 394.4 125.2 392.3 125.4 391.6 125.9 390.6 126.9 389.3 127.7 388.6 128.6 388.0 130.2 387.3 131.0 387.0 133.2 386.6 136.0 386.2 142.4 386.2 142.9 386.3 143.7 386.4 145.7 386.6 147.4 387.0 148.7 387.5 149.8 388.0 150.7 388.6 151.5 389.3 152.3 390.3 153.0 391.6 153.3 392.5 153.7 394.4 153.7 395.0 153.8 395.5 153.8 399.3 153.7 399.8 153.7 400.4 153.2 402.5 153.0 403.2 152.5 404.2 151.3 405.7 149.8 406.8 148.8 407.3 147.4 407.8 146.2 408.1 144.5 408.4 142.5 408.5Z M171.6 431.6 170.1 431.6 169.2 431.6 168.1 431.4 166.8 431.0 165.3 430.4 162.7 428.7 161.3 428.2 158.6 427.8 153.8 427.2 152.9 427.2 152.0 427.3 148.6 428.4 147.2 428.8 145.2 429.1 143.6 429.4 142.9 429.4 142.4 429.4 139.0 429.4 135.6 429.1 133.0 428.5 131.3 427.9 130.0 427.4 128.9 426.8 127.9 426.1 127.1 425.4 126.5 424.5 126.3 423.9 126.2 423.1 126.3 422.4 126.5 421.9 127.2 420.9 128.3 420.0 129.6 419.2 131.3 418.5 133.0 417.9 134.6 417.5 136.9 417.1 139.0 416.9 142.4 416.9 145.8 417.4 148.4 417.9 150.1 418.5 151.4 419.0 154.1 420.5 154.7 420.7 155.4 420.8 158.9 420.9 159.5 420.8 161.1 420.7 161.6 420.6 162.3 420.6 163.5 420.4 164.8 419.7 165.5 419.1 166.2 418.3 166.9 417.7 167.7 417.2 168.5 416.9 169.4 416.8 170.2 416.6 171.0 416.8 171.9 416.9 172.7 417.2 173.5 417.7 175.0 418.9 176.8 419.9 177.9 420.7 178.8 421.6 179.5 422.6 180.0 423.9 180.1 425.0 180.0 426.1 179.5 427.4 178.8 428.4 177.8 429.4 176.3 430.4 174.8 431.0 173.5 431.4 171.6 431.6Z M142.3 407.8 136.1 407.8 134.0 407.6 132.0 407.2 130.5 406.8 129.0 406.1 127.6 405.1 126.8 404.1 126.0 402.6 125.7 401.4 125.5 400.3 125.4 399.2 125.4 395.6 125.5 394.5 125.9 392.5 126.1 391.9 126.6 391.0 127.5 389.8 128.2 389.2 129.0 388.7 130.5 388.0 132.0 387.6 133.3 387.3 136.1 387.0 142.3 387.0 145.1 387.3 147.2 387.8 148.0 388.0 149.4 388.7 150.2 389.2 150.9 389.8 151.6 390.7 152.3 391.9 152.5 392.7 152.9 394.5 153.0 395.6 153.0 399.2 152.9 400.3 152.5 402.3 152.3 402.9 151.8 403.8 150.8 405.1 149.4 406.1 148.5 406.6 147.2 407.0 145.6 407.4 143.6 407.7 142.8 407.7 142.3 407.8Z M171.3 430.9 170.2 430.9 169.3 430.8 168.2 430.6 167.1 430.3 165.7 429.7 163.1 428.1 161.5 427.5 158.7 427.0 153.9 426.4 152.8 426.4 151.8 426.6 148.4 427.7 147.0 428.0 145.1 428.4 143.5 428.6 142.3 428.7 139.1 428.7 135.7 428.3 133.2 427.7 131.8 427.3 130.3 426.7 129.3 426.1 127.8 425.0 127.2 424.1 126.9 423.2 127.2 422.3 127.8 421.4 129.0 420.5 130.0 419.9 131.5 419.2 133.2 418.7 134.7 418.3 137.0 417.9 139.1 417.7 142.3 417.7 145.7 418.1 148.2 418.7 149.9 419.2 151.2 419.8 153.8 421.2 154.5 421.4 155.4 421.6 158.9 421.6 159.6 421.5 161.1 421.5 162.4 421.4 163.8 421.1 165.2 420.3 166.1 419.6 166.7 418.9 167.4 418.3 168.1 417.9 168.7 417.7 169.5 417.5 170.2 417.4 170.9 417.5 171.8 417.7 172.8 418.2 174.6 419.5 176.4 420.6 177.4 421.3 178.2 422.1 178.8 423.0 179.2 424.1 179.3 425.0 179.2 425.9 178.8 427.0 178.2 427.9 177.0 429.0 175.9 429.7 174.5 430.3 172.9 430.7 171.3 430.9Z" fill="none" stroke="#c8102e" stroke-width="0.55" stroke-opacity="1.0" stroke-linejoin="round"/>
<path d="M143.0 409.3 135.4 409.3 135.3 409.2 134.3 409.2 134.2 409.1 132.8 409.0 132.7 408.9 132.3 408.9 132.2 408.8 131.9 408.8 131.8 408.7 131.1 408.6 131.0 408.5 130.4 408.4 130.1 408.2 129.6 408.1 128.2 407.4 128.0 407.2 127.3 406.8 126.8 406.3 126.7 406.3 126.1 405.7 126.1 405.6 125.4 404.8 124.5 403.1 124.5 402.9 124.4 402.8 124.4 402.6 124.2 402.2 124.2 401.9 124.1 401.8 124.0 400.8 123.9 400.7 123.9 399.9 123.8 399.8 123.8 397.1 123.8 394.8 123.9 394.7 123.9 393.9 124.0 393.8 124.1 392.8 124.2 392.7 124.2 392.4 124.3 392.3 124.5 391.5 125.2 390.1 125.7 389.5 125.7 389.4 126.1 389.0 126.1 388.9 127.3 387.8 127.4 387.8 128.2 387.2 129.6 386.5 129.8 386.5 130.4 386.2 130.7 386.2 131.1 386.0 131.4 386.0 131.5 385.9 131.8 385.9 131.9 385.8 132.2 385.8 132.3 385.7 132.7 385.7 132.8 385.6 134.2 385.5 134.3 385.4 135.3 385.4 135.4 385.3 143.0 385.3 143.1 385.4 144.1 385.4 144.2 385.5 144.9 385.5 145.0 385.6 145.6 385.6 145.7 385.7 146.1 385.7 146.2 385.8 146.5 385.8 146.6 385.9 147.3 386.0 147.7 386.2 148.0 386.2 148.6 386.5 148.8 386.5 150.2 387.2 150.4 387.4 151.1 387.8 152.3 388.9 152.3 389.0 153.0 389.8 153.9 391.5 153.9 391.7 154.0 391.8 154.1 392.3 154.2 392.4 154.3 393.2 154.4 393.3 154.4 393.8 154.5 393.9 154.5 394.7 154.6 394.8 154.6 399.8 154.5 399.9 154.5 400.7 154.4 400.8 154.3 401.8 154.2 401.9 154.2 402.2 154.1 402.3 153.9 403.1 153.2 404.5 152.7 405.1 152.7 405.2 152.3 405.6 152.3 405.7 151.1 406.8 151.0 406.8 150.2 407.4 148.8 408.1 148.6 408.1 148.0 408.4 147.7 408.4 147.3 408.6 147.0 408.6 146.9 408.7 146.2 408.8 146.1 408.9 145.7 408.9 145.6 409.0 145.0 409.0 144.9 409.1 144.2 409.1 144.1 409.2 143.1 409.2 143.0 409.3Z M172.1 432.8 169.5 432.8 169.4 432.7 168.7 432.7 168.6 432.6 168.1 432.6 168.0 432.5 167.3 432.4 167.2 432.3 167.0 432.3 166.6 432.1 166.1 432.0 164.3 431.1 164.1 430.9 163.7 430.7 163.4 430.4 163.3 430.4 162.0 429.1 162.0 429.0 161.7 428.7 161.7 428.6 161.3 428.1 161.0 427.5 161.0 427.3 160.8 427.0 160.8 426.7 160.7 426.6 160.7 426.3 160.6 426.2 160.6 425.6 160.5 425.5 160.5 424.5 160.6 424.4 160.6 423.8 160.7 423.7 160.8 423.0 161.0 422.7 161.0 422.5 161.3 421.9 161.5 421.7 161.7 421.3 162.0 421.0 162.0 420.9 163.3 419.6 163.4 419.6 163.7 419.3 163.8 419.3 164.4 418.8 164.8 418.6 166.2 417.2 166.3 417.2 166.7 416.8 166.8 416.8 167.3 416.4 167.9 416.1 168.1 416.1 168.5 415.9 168.8 415.9 168.9 415.8 169.5 415.8 169.6 415.7 170.8 415.7 170.9 415.8 171.5 415.8 171.6 415.9 171.9 415.9 172.0 416.0 172.5 416.1 173.1 416.4 173.3 416.6 173.6 416.7 174.7 417.6 177.3 418.9 177.5 419.1 177.9 419.3 178.2 419.6 178.3 419.6 179.6 420.9 179.6 421.0 179.9 421.3 179.9 421.4 180.3 421.9 180.6 422.5 180.6 422.7 180.8 423.0 180.9 423.7 181.0 423.8 181.0 424.3 181.1 424.4 181.1 425.6 181.0 425.7 181.0 426.2 180.9 426.3 180.8 427.0 180.6 427.3 180.6 427.5 180.3 428.1 180.1 428.3 179.9 428.7 179.6 429.0 179.6 429.1 178.3 430.4 178.2 430.4 177.9 430.7 177.8 430.7 177.3 431.1 176.8 431.3 176.6 431.5 176.2 431.7 176.0 431.7 175.5 432.0 175.3 432.0 175.2 432.1 175.0 432.1 174.9 432.2 174.7 432.2 174.3 432.4 174.0 432.4 173.9 432.5 173.6 432.5 173.5 432.6 173.0 432.6 172.9 432.7 172.2 432.7 172.1 432.8Z M143.1 430.5 138.3 430.5 138.2 430.4 137.2 430.4 137.1 430.3 135.7 430.2 135.6 430.1 134.6 430.0 134.5 429.9 134.1 429.9 134.0 429.8 133.7 429.8 133.6 429.7 132.9 429.6 132.5 429.4 132.2 429.4 132.1 429.3 131.3 429.1 131.0 428.9 130.5 428.8 129.8 428.4 129.6 428.4 129.0 428.1 128.8 427.9 128.3 427.7 128.1 427.5 127.7 427.3 127.3 426.9 127.2 426.9 126.1 425.8 126.1 425.7 125.8 425.4 125.4 424.6 125.4 424.4 125.2 424.0 125.2 422.4 125.3 422.3 125.4 421.8 125.8 421.0 126.5 420.2 127.7 419.1 127.8 419.1 128.3 418.7 128.8 418.5 129.0 418.3 129.6 418.0 129.8 418.0 130.5 417.6 131.0 417.5 131.3 417.3 131.5 417.3 131.6 417.2 132.1 417.1 132.2 417.0 132.5 417.0 132.9 416.8 133.2 416.8 133.3 416.7 133.6 416.7 133.7 416.6 134.0 416.6 134.1 416.5 135.1 416.4 135.2 416.3 135.6 416.3 135.7 416.2 136.3 416.2 136.4 416.1 137.1 416.1 137.2 416.0 138.2 416.0 138.3 415.9 143.1 415.9 143.2 416.0 144.2 416.0 144.3 416.1 145.7 416.2 145.8 416.3 146.8 416.4 146.9 416.5 147.3 416.5 147.4 416.6 147.7 416.6 147.8 416.7 148.5 416.8 148.9 417.0 149.2 417.0 149.3 417.1 150.1 417.3 150.7 417.6 150.9 417.6 151.6 418.0 151.8 418.0 152.4 418.3 152.6 418.5 153.1 418.7 153.3 418.9 153.7 419.1 154.1 419.5 154.2 419.5 155.3 420.6 155.3 420.7 155.6 421.0 156.1 422.0 156.1 422.3 156.2 422.4 156.2 424.0 156.1 424.1 156.1 424.4 155.6 425.4 155.3 425.7 155.3 425.8 154.2 426.9 154.1 426.9 153.7 427.3 153.6 427.3 153.1 427.7 152.6 427.9 152.4 428.1 151.8 428.4 151.6 428.4 150.9 428.8 150.4 428.9 150.1 429.1 149.9 429.1 149.8 429.2 149.6 429.2 149.2 429.4 148.9 429.4 148.5 429.6 147.8 429.7 147.7 429.8 147.4 429.8 147.3 429.9 146.9 429.9 146.8 430.0 145.8 430.1 145.7 430.2 144.3 430.3 144.2 430.4 143.2 430.4 143.1 430.5Z" fill="#c8102e" fill-opacity="1.0"/>
<path d="M125.5 409.6 L154.5 409.6 C152 411 150.8 412 150.7 413 C151 414.2 153.5 415.2 156.5 416 L124.5 416 C127.5 415.2 130 414.2 130.2 413 C130 412 128 411 125.5 409.6 Z" fill="#c8102e" fill-opacity="0.3"/>
<path d="M128.6 409.9 L130.9 412.9 L128.6 415.8 M152.4 409.9 L150.1 412.9 L152.4 415.8 M130.9 409.9 L133.2 412.9 L130.9 415.8 M150.1 409.9 L147.8 412.9 L150.1 415.8 M133.2 409.9 L135.5 412.9 L133.2 415.8 M147.8 409.9 L145.5 412.9 L147.8 415.8 M135.5 409.9 L137.8 412.9 L135.5 415.8 M145.5 409.9 L143.2 412.9 L145.5 415.8 M137.8 409.9 L140.1 412.9 L137.8 415.8 M143.2 409.9 L140.9 412.9 L143.2 415.8" fill="none" stroke="#c8102e" stroke-width="0.6"/>
<path d="M124.4 400.5 L124.3 398.9 L124.3 396.3 L124.4 394.6 L124.6 393.3 L124.9 392.2 L125.3 391.2 L125.8 390.3 L126.4 389.5 L127.1 388.8 L127.9 388.2 L128.8 387.6 L129.8 387.1 L131.0 386.7 L132.2 386.4 L133.6 386.2 L135.2 386.0 L137.2 385.9 L140.7 385.9 L142.8 386.0 L144.5 386.1 L145.9 386.4 L147.2 386.7 L148.4 387.1 L149.4 387.5 M125.5 400.2 L125.4 398.8 L125.4 396.4 L125.5 394.9 L125.7 393.7 L125.9 392.7 L126.3 391.8 L126.8 391.0 L127.3 390.3 L128.0 389.6 L128.7 389.1 L129.6 388.6 L130.5 388.1 L131.6 387.8 L132.7 387.5 L134.0 387.2 L135.5 387.1 L137.4 387.0 L140.6 387.0 L142.5 387.1 L144.1 387.2 L145.4 387.4 L146.6 387.7 L147.7 388.0 L148.6 388.5 M126.6 399.9 L126.5 398.6 L126.5 396.5 L126.6 395.2 L126.8 394.1 L127.0 393.2 L127.3 392.4 L127.8 391.7 L128.3 391.0 L128.9 390.5 L129.6 389.9 L130.3 389.5 L131.2 389.1 L132.2 388.8 L133.2 388.5 L134.4 388.3 L135.8 388.2 L137.5 388.1 L140.5 388.1 L142.3 388.2 L143.7 388.3 L144.9 388.5 L146.0 388.7 L147.0 389.0 L147.9 389.4 M127.7 399.6 L127.6 398.5 L127.6 396.6 L127.7 395.4 L127.8 394.5 L128.1 393.7 L128.4 393.0 L128.8 392.4 L129.2 391.8 L129.8 391.3 L130.4 390.8 L131.1 390.4 L131.9 390.1 L132.8 389.8 L133.8 389.6 L134.9 389.4 L136.1 389.3 L137.7 389.2 L140.3 389.2 L142.0 389.3 L143.3 389.4 L144.4 389.5 L145.4 389.7 L146.3 390.0 L147.1 390.4" fill="none" stroke="#fff" stroke-width="0.45" stroke-opacity="0.45"/>
<path d="M137.2 401.6 L142 401.4 M139 398.2 L141.5 396.8 M140.5 423.2 L144.5 423.2" stroke="#fff" stroke-width="0.8" stroke-opacity="0.8" stroke-dasharray="1.3 0.7"/>
<path d="M167.3 394 C167.3 391 171.2 391 171.2 394 C171.2 396 170.2 396.8 170.6 398.5 C171.4 400.5 170.8 402.6 169.2 402.6 C167.6 402.6 167 400.5 167.8 398.5 C168.2 396.8 167.3 396 167.3 394 Z" fill="none" stroke="#c8102e" stroke-width="0.7"/>
<rect x="123.4" y="383.4" width="32.19999999999999" height="27.0" fill="none" stroke="#000" stroke-width="1.0"/>
<rect x="158.6" y="410.2" width="27.80000000000001" height="25.600000000000023" fill="none" stroke="#000" stroke-width="1.0"/>
<text x="139.3" y="379.4" font-size="7.7" text-anchor="middle" font-weight="normal" fill="#000" >33.2%</text>
<text x="173.2" y="408.1" font-size="7.7" text-anchor="middle" font-weight="normal" fill="#000" >43.2%</text>
<path d="M228.9 409.6 224.7 409.6 224.5 409.6 224.1 409.6 223.4 409.4 222.2 408.9 219.4 407.4 219.0 407.2 218.2 406.4 216.3 403.4 215.8 402.2 215.4 401.2 215.4 400.7 215.3 400.5 215.2 398.5 215.2 398.3 215.2 397.4 215.1 397.2 215.1 396.0 214.9 395.8 215.1 393.8 215.2 393.6 215.2 393.0 215.2 392.8 215.2 392.3 215.3 392.1 215.4 391.1 215.8 390.1 216.5 388.8 217.6 387.4 218.0 387.1 218.7 386.8 219.5 386.6 219.7 386.6 222.1 386.4 222.3 386.4 223.6 386.4 223.8 386.2 227.2 386.2 227.4 386.4 229.5 386.4 229.7 386.4 231.0 386.4 231.2 386.6 231.6 386.6 232.9 387.1 235.7 388.7 236.5 389.5 236.7 389.8 238.1 392.6 238.4 393.7 238.6 394.5 238.7 394.7 238.7 396.9 238.6 397.1 238.6 399.0 238.4 399.2 238.3 400.0 238.1 400.8 236.3 404.2 235.8 405.1 234.8 406.1 234.0 406.7 232.8 407.5 231.5 408.5 230.3 409.2 229.5 409.6 229.1 409.6 228.9 409.6Z M259.7 433.1 257.3 433.1 257.1 433.1 256.4 433.1 254.0 432.4 252.0 431.6 250.7 430.7 250.2 430.2 250.0 430.1 249.0 429.0 248.0 428.3 246.6 427.9 246.3 427.9 246.1 427.8 245.8 427.8 244.6 427.4 244.2 427.4 244.0 427.4 243.4 427.4 243.2 427.2 242.3 427.4 241.7 427.6 239.4 428.6 237.4 429.4 235.4 429.9 235.1 429.9 234.9 429.9 233.8 430.1 233.6 430.1 233.0 430.1 232.8 430.2 231.9 430.2 231.7 430.4 227.5 430.4 227.3 430.2 226.4 430.2 226.2 430.1 224.9 430.1 224.7 429.9 224.3 429.9 224.1 429.9 223.8 429.9 223.2 429.6 222.5 429.6 220.3 428.9 219.1 428.4 217.5 427.5 216.2 426.6 215.1 425.5 214.6 424.8 214.2 424.1 213.9 423.1 213.9 421.7 214.1 421.3 214.6 420.1 215.1 419.3 216.2 418.2 217.5 417.3 219.1 416.4 220.3 415.9 222.5 415.2 223.2 415.1 224.3 414.9 224.7 414.9 224.9 414.8 226.2 414.6 226.4 414.6 227.3 414.6 227.5 414.4 231.7 414.4 231.9 414.6 232.8 414.6 233.0 414.6 233.6 414.6 233.8 414.8 234.3 414.8 234.5 414.9 234.9 414.9 236.0 415.1 236.3 415.1 238.9 415.9 240.1 416.4 242.9 417.9 243.4 418.1 243.8 418.1 244.0 418.1 250.3 418.1 251.1 417.9 251.7 417.6 252.1 417.2 252.6 416.5 253.6 415.5 254.6 414.9 255.5 414.4 256.6 414.1 257.1 414.1 257.3 414.1 258.5 414.1 258.7 414.1 259.2 414.1 260.0 414.4 261.2 414.9 262.2 415.5 263.2 416.5 263.6 417.1 264.3 417.9 266.3 419.3 267.1 420.0 267.9 420.9 268.4 421.6 268.9 422.8 269.1 423.4 269.2 424.4 269.4 424.6 269.4 425.4 269.2 425.6 269.1 426.6 268.9 427.2 268.4 428.4 267.9 429.1 267.4 429.6 267.3 429.8 266.3 430.7 265.0 431.6 263.0 432.4 261.2 432.9 260.8 432.9 260.6 433.1 259.9 433.1 259.7 433.1Z M228.7 408.9 225.0 408.9 224.3 408.8 223.6 408.6 222.4 408.1 219.7 406.8 219.4 406.6 218.8 406.0 217.0 403.1 216.5 402.1 216.2 401.0 216.1 400.3 216.0 398.4 215.8 397.0 215.8 395.9 215.7 395.6 215.7 395.0 215.8 394.7 215.8 394.0 216.0 392.5 216.3 390.9 216.7 389.8 218.1 388.0 218.8 387.5 219.9 387.3 222.2 387.2 222.5 387.1 223.7 387.1 224.1 387.0 227.0 387.0 227.3 387.1 229.3 387.1 229.6 387.2 230.8 387.2 231.4 387.3 232.6 387.7 235.3 389.3 236.1 390.2 236.8 391.6 237.5 393.3 237.9 394.9 237.8 398.8 237.6 399.8 237.3 400.7 235.4 404.4 235.2 404.7 234.4 405.5 230.5 408.3 229.6 408.7 228.7 408.9Z M259.5 432.4 257.6 432.4 257.2 432.3 256.6 432.3 254.2 431.7 252.5 431.0 251.1 430.1 250.3 429.4 249.5 428.5 248.3 427.6 246.8 427.2 243.3 426.5 242.1 426.7 241.4 426.9 238.7 428.1 236.5 428.8 234.7 429.2 232.6 429.5 231.8 429.5 231.4 429.6 227.7 429.6 227.4 429.5 226.6 429.5 225.1 429.3 223.1 428.9 220.5 428.1 219.2 427.6 217.9 426.9 216.6 426.0 215.7 425.1 215.0 424.0 214.7 422.9 214.7 421.9 215.0 420.8 215.7 419.7 216.6 418.8 217.9 417.9 219.2 417.2 220.5 416.7 222.7 416.0 225.1 415.5 227.8 415.2 231.4 415.2 231.8 415.3 233.4 415.4 236.1 415.9 238.7 416.7 240.0 417.2 242.6 418.6 243.2 418.7 244.0 418.9 250.3 418.9 251.4 418.6 252.1 418.2 254.0 416.1 255.1 415.4 256.0 415.1 257.5 414.8 258.3 414.8 259.0 414.9 260.1 415.2 260.7 415.4 261.4 415.8 262.6 416.9 263.0 417.5 263.8 418.4 265.9 419.9 266.7 420.6 267.7 421.9 268.2 422.9 268.4 423.6 268.6 424.9 268.4 426.4 268.2 427.0 267.8 427.9 267.3 428.7 266.7 429.4 265.9 430.1 264.5 431.0 262.8 431.7 261.0 432.2 259.5 432.4Z M228.5 408.2 225.1 408.2 224.1 408.0 222.6 407.4 220.2 406.2 219.8 406.0 219.2 405.3 217.6 402.6 217.2 401.8 216.9 400.9 216.8 400.1 216.7 398.4 216.5 396.8 216.5 395.9 216.4 395.4 216.6 393.4 216.9 391.4 217.2 390.5 218.3 388.8 218.6 388.5 219.1 388.2 220.1 388.0 222.2 387.9 222.7 387.8 223.7 387.8 224.2 387.7 226.8 387.7 227.3 387.8 229.1 387.8 231.3 388.0 232.2 388.3 234.9 389.9 235.5 390.7 236.1 391.9 236.9 393.6 237.2 395.1 237.1 398.6 236.9 399.6 236.6 400.4 235.1 403.4 234.6 404.2 234.0 404.9 230.0 407.7 229.3 408.1 228.5 408.2Z M259.3 431.7 257.7 431.7 256.8 431.6 255.8 431.4 254.4 431.0 252.8 430.3 251.6 429.5 250.8 428.9 249.9 427.9 249.3 427.4 248.6 427.0 246.9 426.4 244.9 426.0 243.3 425.8 242.0 425.9 241.2 426.2 239.0 427.2 237.0 427.9 235.0 428.4 233.2 428.7 231.3 428.9 227.9 428.9 226.0 428.7 224.1 428.4 222.2 427.9 220.2 427.2 219.1 426.7 217.5 425.7 216.3 424.7 215.8 423.9 215.4 422.8 215.4 422.0 215.7 421.1 216.3 420.1 217.0 419.4 218.4 418.5 220.2 417.6 222.0 416.9 223.2 416.6 225.3 416.2 227.9 415.9 231.3 415.9 233.2 416.1 236.3 416.7 238.4 417.3 239.7 417.9 242.3 419.2 243.1 419.5 244.0 419.6 250.3 419.6 251.6 419.3 252.5 418.8 253.1 418.2 253.8 417.3 254.4 416.7 255.4 416.1 256.2 415.8 257.7 415.5 258.9 415.6 260.4 416.1 261.3 416.7 262.0 417.3 263.3 418.9 265.4 420.5 266.1 421.1 267.1 422.3 267.5 423.2 267.7 423.8 267.9 425.0 267.7 426.4 267.1 427.6 266.7 428.2 266.1 428.9 265.4 429.5 264.2 430.3 262.5 431.1 260.9 431.5 259.3 431.7Z M228.8 407.4 228.4 407.5 225.2 407.5 224.2 407.3 222.9 406.8 220.3 405.4 220.0 405.1 219.4 404.3 218.2 402.2 217.8 401.5 217.6 400.7 217.1 395.3 217.4 392.8 217.6 391.6 217.8 390.8 218.9 389.3 219.3 388.9 220.2 388.7 223.8 388.5 224.3 388.4 226.7 388.4 227.3 388.5 229.0 388.5 229.5 388.6 230.5 388.6 231.5 388.8 232.6 389.4 234.4 390.5 234.9 391.1 236.2 393.8 236.5 395.2 236.4 398.5 236.2 399.6 234.5 403.0 234.0 403.8 233.5 404.3 230.2 406.7 229.4 407.2 228.8 407.4Z M259.6 430.9 259.2 431.0 257.8 431.0 256.3 430.8 254.7 430.4 253.2 429.7 252.0 428.9 251.2 428.2 250.4 427.3 249.7 426.8 248.9 426.3 247.1 425.7 245.0 425.3 243.4 425.1 242.7 425.1 241.7 425.3 240.8 425.6 238.7 426.6 237.0 427.2 234.9 427.7 233.1 428.0 231.2 428.2 228.0 428.2 226.1 428.0 224.3 427.7 223.0 427.4 221.0 426.8 219.5 426.1 218.1 425.3 217.1 424.4 216.4 423.6 216.2 422.9 216.1 422.2 216.3 421.4 216.9 420.6 217.9 419.7 219.5 418.7 221.0 418.0 223.0 417.4 224.3 417.1 226.1 416.8 228.0 416.6 231.2 416.6 233.8 416.9 236.1 417.4 238.2 418.0 239.4 418.5 242.0 419.9 242.9 420.2 244.0 420.3 250.3 420.3 251.5 420.1 252.6 419.6 253.1 419.3 253.7 418.7 254.4 417.8 254.9 417.3 255.7 416.7 256.4 416.5 257.8 416.2 258.7 416.3 259.5 416.5 260.1 416.7 260.9 417.3 261.4 417.8 262.8 419.5 265.0 421.1 265.6 421.6 266.3 422.4 266.9 423.5 267.2 425.0 267.0 426.2 266.5 427.2 266.1 427.8 265.0 428.9 263.8 429.7 262.3 430.4 260.7 430.8 259.6 430.9Z M228.6 406.7 228.3 406.8 225.3 406.8 224.4 406.6 223.1 406.1 220.7 404.8 220.0 403.9 218.8 401.8 218.5 401.2 218.3 400.6 217.8 395.3 218.1 392.9 218.4 391.3 218.7 390.7 219.6 389.6 220.3 389.4 224.4 389.1 226.6 389.1 227.2 389.2 230.4 389.3 231.2 389.5 232.3 390.0 233.9 391.0 234.3 391.5 235.5 394.1 235.8 395.3 235.7 398.4 235.5 399.3 233.9 402.6 233.4 403.4 232.7 404.0 229.6 406.3 228.9 406.7 228.6 406.7Z M259.4 430.2 257.9 430.3 257.0 430.2 255.0 429.7 253.6 429.1 252.6 428.5 251.7 427.7 250.8 426.7 250.1 426.2 249.2 425.7 247.3 425.1 245.1 424.6 243.5 424.4 242.6 424.4 241.5 424.6 240.5 424.9 238.4 425.9 236.8 426.5 235.7 426.8 233.7 427.2 231.1 427.5 228.1 427.5 224.9 427.1 223.2 426.7 221.5 426.2 220.0 425.6 219.1 425.1 217.9 424.2 217.5 423.8 217.0 423.1 216.8 422.5 216.8 422.2 217.0 421.6 217.9 420.6 219.1 419.7 220.0 419.2 221.3 418.7 223.2 418.1 224.9 417.7 227.0 417.4 228.1 417.3 231.1 417.3 233.0 417.5 234.8 417.8 236.0 418.1 237.9 418.7 239.2 419.2 241.8 420.6 243.5 421.0 250.3 421.0 251.6 420.8 252.3 420.6 252.9 420.3 253.7 419.7 255.3 417.9 256.0 417.4 256.5 417.2 257.2 417.0 257.9 416.9 258.6 417.0 259.7 417.4 260.5 417.9 262.3 420.0 264.6 421.7 265.1 422.1 265.7 422.8 266.2 423.7 266.3 424.0 266.4 425.0 266.3 426.0 265.9 426.9 265.5 427.4 264.5 428.4 263.4 429.1 262.0 429.7 260.6 430.1 259.4 430.2Z M228.4 406.0 225.4 406.1 224.8 406.0 223.4 405.4 221.4 404.4 221.0 404.1 219.4 401.5 219.0 400.5 218.6 395.3 218.7 393.7 219.1 391.6 219.3 391.1 220.0 390.2 224.5 389.9 226.5 389.9 227.2 389.9 230.3 390.1 230.9 390.2 231.9 390.6 233.5 391.6 233.7 391.8 234.6 393.8 235.0 394.8 235.1 395.4 235.1 396.2 235.0 396.9 234.9 398.3 234.8 399.1 233.3 402.2 232.9 402.9 231.9 403.7 229.2 405.7 228.7 406.0 228.4 406.0Z M259.2 429.5 258.0 429.6 256.5 429.4 255.5 429.1 254.2 428.6 252.9 427.8 252.2 427.2 251.3 426.2 249.8 425.2 248.0 424.5 245.2 423.9 243.3 423.7 242.6 423.7 241.7 423.8 240.3 424.2 238.9 424.9 237.5 425.5 235.8 426.0 234.6 426.3 231.0 426.8 228.2 426.8 224.6 426.3 222.7 425.8 221.0 425.2 219.5 424.5 218.4 423.7 217.7 422.9 217.6 422.3 217.7 421.9 218.0 421.5 218.8 420.8 220.2 419.9 221.5 419.4 223.4 418.8 224.6 418.5 228.2 418.1 231.0 418.1 232.1 418.1 234.2 418.4 235.8 418.8 237.6 419.4 238.9 419.9 241.7 421.3 243.4 421.7 250.7 421.7 252.0 421.5 253.3 420.9 254.2 420.2 255.8 418.4 256.4 418.0 257.1 417.8 257.9 417.7 258.5 417.7 259.4 418.0 260.0 418.4 261.8 420.5 262.7 421.2 264.1 422.2 264.6 422.7 265.1 423.2 265.5 424.0 265.7 425.0 265.6 425.8 265.3 426.5 265.0 426.9 264.0 427.9 263.0 428.5 261.6 429.1 260.5 429.4 259.2 429.5Z M228.3 405.3 225.5 405.3 224.9 405.2 223.7 404.8 221.7 403.8 220.0 401.1 219.8 400.5 219.7 399.8 219.3 395.3 219.8 391.8 220.4 390.9 224.6 390.6 226.4 390.6 227.2 390.7 228.7 390.7 230.3 390.8 230.9 390.9 233.1 392.2 234.0 394.1 234.2 394.9 234.3 396.1 234.2 396.9 234.2 398.2 234.1 398.9 232.7 401.9 232.3 402.5 228.9 405.0 228.3 405.3Z M259.1 428.8 258.1 428.8 257.1 428.7 255.5 428.4 254.3 427.9 253.4 427.3 251.7 425.6 250.9 425.0 249.9 424.4 248.1 423.8 244.7 423.1 242.8 422.9 241.3 423.1 240.0 423.6 237.3 424.8 235.6 425.3 234.1 425.6 230.9 426.0 228.3 426.0 224.7 425.6 223.6 425.3 221.8 424.8 220.6 424.3 219.3 423.5 218.6 422.9 218.3 422.4 218.8 421.7 219.8 421.0 221.3 420.2 222.9 419.7 224.7 419.2 227.1 418.9 228.3 418.8 230.9 418.8 234.1 419.2 236.3 419.7 238.6 420.5 241.3 421.9 242.6 422.3 243.9 422.5 250.7 422.5 252.2 422.1 252.9 421.9 253.7 421.5 254.6 420.8 255.3 420.1 256.1 419.1 256.7 418.7 257.4 418.5 257.9 418.4 258.4 418.5 259.1 418.7 259.6 419.0 260.8 420.5 261.4 421.1 264.0 423.1 264.7 423.9 264.9 424.4 265.0 425.0 264.9 425.7 264.5 426.4 263.7 427.2 262.8 427.8 261.3 428.4 260.4 428.6 259.1 428.8Z M228.1 404.6 225.6 404.6 225.1 404.5 224.0 404.1 222.2 403.2 220.7 400.8 220.5 400.3 220.4 399.7 220.0 395.3 220.5 392.0 220.8 391.6 224.7 391.3 226.4 391.3 227.1 391.4 230.2 391.5 230.5 391.5 231.2 391.9 232.5 392.7 233.5 394.9 233.6 395.5 233.5 398.2 233.4 398.7 232.0 401.5 231.7 402.1 228.5 404.4 228.1 404.6Z M258.9 428.1 258.1 428.1 256.7 427.9 255.8 427.7 254.8 427.3 253.8 426.7 252.4 425.3 251.3 424.4 250.1 423.7 248.7 423.2 251.0 423.1 252.1 422.9 253.0 422.6 253.9 422.2 254.9 421.5 255.8 420.6 256.6 419.6 257.0 419.3 257.9 419.1 258.8 419.3 259.2 419.6 260.3 421.0 260.9 421.6 261.8 422.4 262.9 423.1 263.6 423.7 264.0 424.3 264.2 424.6 264.2 425.0 264.2 425.4 263.9 426.0 263.2 426.7 262.4 427.2 261.1 427.7 260.3 427.9 258.9 428.1Z M230.9 425.3 228.4 425.3 227.2 425.2 225.2 424.9 223.8 424.6 222.1 424.1 220.9 423.6 219.7 422.9 219.1 422.4 219.7 421.9 220.9 421.2 222.1 420.7 223.8 420.2 225.2 419.9 227.2 419.6 228.3 419.5 230.8 419.5 233.9 419.9 236.1 420.4 238.3 421.2 240.8 422.5 239.6 423.0 237.1 424.1 235.4 424.6 233.4 425.0 230.9 425.3Z M228.0 403.9 225.3 403.8 224.2 403.4 222.7 402.6 221.3 400.4 221.2 400.1 221.1 399.6 220.8 395.3 221.0 393.3 221.2 392.3 224.7 392.0 226.3 392.0 227.1 392.1 230.1 392.2 230.8 392.5 231.9 393.2 232.8 395.2 232.9 396.0 232.7 398.5 231.2 401.5 228.0 403.9Z M259.5 427.3 258.2 427.4 257.3 427.3 256.1 427.0 255.1 426.6 254.3 426.1 252.8 424.7 251.7 423.8 253.5 423.2 254.9 422.4 256.2 421.3 257.3 420.0 257.9 419.9 258.4 419.9 258.6 420.1 259.7 421.4 260.3 422.1 261.3 422.9 262.7 423.9 263.3 424.5 263.5 424.9 263.5 425.2 263.3 425.5 262.7 426.1 262.0 426.6 260.9 427.0 259.5 427.3Z M231.5 424.5 230.8 424.6 228.4 424.6 225.0 424.2 224.0 423.9 222.4 423.4 221.2 422.9 220.3 422.4 221.2 421.9 221.9 421.6 224.0 420.9 225.9 420.5 228.4 420.2 230.8 420.2 234.2 420.6 235.2 420.9 236.8 421.4 238.1 421.9 239.0 422.4 237.3 423.2 235.2 423.9 233.3 424.3 231.5 424.5Z M227.8 403.1 227.7 403.2 225.5 403.1 223.2 402.1 222.0 400.1 221.8 399.5 221.5 395.3 221.8 393.0 224.8 392.7 226.2 392.7 230.0 392.9 231.4 393.7 232.0 395.0 232.2 395.6 232.1 398.0 232.0 398.4 230.6 401.1 227.8 403.1Z M259.2 426.6 258.3 426.7 257.0 426.5 256.3 426.3 255.4 426.0 254.7 425.5 253.3 424.1 254.5 423.5 255.5 422.9 256.8 421.7 257.7 420.6 258.1 420.6 259.2 422.0 259.9 422.7 260.9 423.5 262.2 424.4 262.8 425.0 262.3 425.5 261.6 426.0 260.7 426.3 260.0 426.5 259.2 426.6Z M231.2 423.8 230.7 423.9 228.5 423.9 226.0 423.6 224.2 423.2 222.6 422.7 221.8 422.4 223.4 421.8 225.1 421.4 228.5 420.9 230.7 420.9 233.7 421.3 235.7 421.8 237.4 422.4 236.6 422.7 235.0 423.2 233.2 423.6 231.2 423.8Z M227.5 402.4 225.6 402.4 223.7 401.5 222.6 399.8 222.5 398.5 222.2 395.3 222.4 393.7 224.8 393.5 228.5 393.6 229.9 393.7 230.8 394.2 231.4 395.7 231.3 398.1 230.1 400.6 227.5 402.4Z M259.0 425.9 258.3 425.9 257.2 425.8 256.5 425.6 255.7 425.3 255.2 425.0 254.5 424.3 255.3 423.9 256.3 423.2 257.9 421.5 258.7 422.5 259.5 423.3 261.8 425.0 261.3 425.3 260.5 425.6 259.8 425.8 259.0 425.9Z M231.0 423.1 228.5 423.1 227.4 423.0 225.6 422.8 223.9 422.4 225.6 422.0 228.6 421.6 230.7 421.7 231.8 421.8 233.6 422.0 235.3 422.4 233.6 422.8 231.0 423.1Z M227.3 401.7 225.8 401.7 224.2 401.0 223.3 399.5 222.9 395.3 223.0 394.4 223.1 394.3 224.9 394.2 228.4 394.3 229.7 394.4 230.2 394.7 230.7 395.8 230.6 397.9 229.5 400.1 227.3 401.7Z M230.8 422.4 228.4 422.4 230.8 422.4Z M258.8 425.2 258.4 425.2 257.3 425.1 256.7 424.9 255.7 424.5 256.9 423.6 257.9 422.6 259.0 423.8 260.4 424.9 259.7 425.1 258.8 425.2Z M227.0 401.0 226.0 401.0 224.7 400.4 224.0 399.3 223.7 396.1 223.7 395.0 226.1 394.9 229.5 395.1 229.7 395.2 230.0 395.9 229.9 397.8 229.0 399.6 227.0 401.0Z M258.6 424.5 257.6 424.4 257.2 424.3 257.8 423.7 257.9 423.7 258.6 424.4 258.6 424.5Z M226.9 400.2 226.8 400.3 226.1 400.3 225.3 399.9 224.7 399.1 224.4 395.7 225.0 395.6 226.0 395.6 228.3 395.7 229.1 395.8 229.2 395.9 229.3 396.0 229.2 397.6 228.4 399.1 226.9 400.2Z M226.6 399.5 226.3 399.6 225.7 399.3 225.4 398.8 225.2 396.4 225.9 396.3 228.4 396.4 228.5 396.5 228.5 397.4 227.9 398.6 226.6 399.5Z M226.3 398.8 226.1 398.5 226.0 397.1 227.7 397.1 227.8 397.2 227.3 398.1 226.3 398.8Z" fill="none" stroke="#124f87" stroke-width="0.6" stroke-opacity="1.0" stroke-linejoin="round"/>
<path d="M231.8 430.0 227.4 430.0 227.3 429.9 226.3 429.9 226.2 429.8 224.8 429.7 224.7 429.6 224.3 429.6 224.2 429.5 223.3 429.4 223.2 429.3 222.9 429.3 222.8 429.2 222.5 429.2 222.4 429.1 222.1 429.1 221.7 428.9 221.1 428.8 220.8 428.6 220.3 428.5 219.3 428.0 219.1 428.0 218.5 427.7 218.3 427.5 217.8 427.3 217.6 427.1 217.2 426.9 216.9 426.6 216.8 426.6 216.4 426.2 216.3 426.2 215.6 425.5 215.6 425.4 215.0 424.7 214.6 423.9 214.6 423.7 214.4 423.3 214.4 421.5 214.5 421.4 214.6 420.9 215.0 420.1 215.6 419.4 215.6 419.3 216.8 418.2 216.9 418.2 217.2 417.9 217.6 417.7 217.8 417.5 218.3 417.3 218.5 417.1 219.1 416.8 219.3 416.8 219.8 416.5 220.0 416.5 220.3 416.3 220.8 416.2 221.4 415.9 221.7 415.9 222.1 415.7 222.8 415.6 222.9 415.5 223.2 415.5 223.3 415.4 223.7 415.4 223.8 415.3 224.2 415.3 224.3 415.2 224.7 415.2 224.8 415.1 225.4 415.1 225.5 415.0 226.2 415.0 226.3 414.9 227.3 414.9 227.4 414.8 231.8 414.8 231.9 414.9 232.9 414.9 233.0 415.0 234.4 415.1 234.5 415.2 234.9 415.2 235.0 415.3 235.4 415.3 235.5 415.4 235.9 415.4 236.0 415.5 236.3 415.5 236.4 415.6 237.1 415.7 237.2 415.8 237.8 415.9 238.4 416.2 238.9 416.3 239.2 416.5 239.4 416.5 239.9 416.8 240.1 416.8 240.7 417.1 240.9 417.3 241.4 417.5 241.6 417.7 242.0 417.9 242.3 418.2 242.4 418.2 243.6 419.3 243.6 419.4 244.2 420.1 244.6 420.9 244.6 421.1 244.8 421.5 244.8 422.2 244.9 422.3 244.9 422.5 244.8 422.6 244.8 423.3 244.7 423.4 244.6 423.9 244.2 424.7 243.6 425.4 243.6 425.5 242.9 426.2 242.8 426.2 242.0 426.9 241.9 426.9 241.4 427.3 240.9 427.5 240.7 427.7 240.1 428.0 239.9 428.0 239.4 428.3 239.2 428.3 238.9 428.5 238.4 428.6 238.1 428.8 237.5 428.9 237.1 429.1 236.8 429.1 236.7 429.2 236.4 429.2 236.3 429.3 236.0 429.3 235.9 429.4 235.5 429.4 235.4 429.5 234.5 429.6 234.4 429.7 233.0 429.8 232.9 429.9 231.9 429.9 231.8 430.0Z M259.8 432.8 257.2 432.8 257.1 432.7 256.4 432.7 256.3 432.6 255.8 432.6 255.7 432.5 255.4 432.5 255.3 432.4 255.0 432.4 254.6 432.2 254.0 432.1 253.7 431.9 253.5 431.9 252.1 431.2 251.9 431.0 251.2 430.6 250.7 430.1 250.6 430.1 249.4 428.8 249.4 428.7 249.1 428.4 248.9 427.9 248.7 427.7 248.7 427.5 248.5 427.2 248.5 427.0 248.3 426.6 248.3 426.3 248.2 426.2 248.2 425.6 248.1 425.5 248.1 424.5 248.2 424.4 248.2 423.8 248.3 423.7 248.3 423.4 248.4 423.3 248.6 422.5 248.8 422.1 249.0 421.9 249.1 421.6 249.4 421.3 249.4 421.2 250.6 419.9 250.7 419.9 251.2 419.4 251.3 419.4 252.4 418.4 252.4 418.3 252.7 418.0 253.1 417.3 254.3 416.1 255.6 415.4 255.8 415.4 256.2 415.2 256.5 415.2 256.6 415.1 257.2 415.1 257.3 415.0 258.5 415.0 258.6 415.1 259.2 415.1 259.3 415.2 259.6 415.2 259.7 415.3 260.2 415.4 261.5 416.1 263.3 417.9 263.4 417.9 263.9 418.3 264.4 418.5 264.6 418.7 264.9 418.8 265.1 419.0 265.8 419.4 267.2 420.7 267.2 420.8 267.6 421.2 267.6 421.3 267.9 421.6 268.0 421.9 268.2 422.1 268.4 422.5 268.6 423.3 268.7 423.4 268.7 423.7 268.8 423.8 268.8 424.3 268.9 424.4 268.9 425.6 268.8 425.7 268.8 426.2 268.7 426.3 268.7 426.6 268.6 426.7 268.5 427.2 268.3 427.5 268.3 427.7 268.1 427.9 267.9 428.4 267.2 429.2 267.2 429.3 265.8 430.6 265.7 430.6 264.9 431.2 263.5 431.9 263.3 431.9 263.0 432.1 262.4 432.2 262.0 432.4 261.3 432.5 261.2 432.6 260.7 432.6 260.6 432.7 259.9 432.7 259.8 432.8Z" fill="#124f87" fill-opacity="1.0"/>
<path d="M228.5 408.6 225.0 408.6 224.0 408.4 222.5 407.8 219.9 406.5 219.1 405.8 217.3 402.9 216.8 401.9 216.5 400.9 216.4 400.2 216.2 397.3 216.1 396.9 216.1 395.9 216.0 395.5 216.3 392.6 216.6 391.0 216.9 390.1 218.0 388.6 218.6 388.0 218.9 387.8 220.0 387.6 222.2 387.5 222.6 387.4 223.7 387.4 224.1 387.3 226.9 387.3 227.3 387.4 229.2 387.4 229.6 387.5 230.7 387.5 231.3 387.6 232.4 388.0 235.1 389.6 235.8 390.4 236.5 391.8 237.2 393.4 237.6 395.0 237.5 398.7 237.3 399.7 237.0 400.5 235.4 403.7 234.9 404.5 234.2 405.2 230.3 408.0 229.5 408.4 228.5 408.6Z" fill="#124f87" fill-opacity="0.5"/>
<path d="M235.1 393.0 234.4 393.0 234.3 392.9 232.7 392.9 232.6 392.8 231.0 392.8 230.9 392.7 229.3 392.7 229.2 392.6 227.6 392.6 227.5 392.5 225.9 392.5 225.8 392.4 224.2 392.4 224.1 392.3 222.5 392.3 222.4 392.2 220.8 392.2 220.7 392.1 219.6 392.1 219.5 392.0 218.9 391.9 218.3 391.6 218.1 391.4 218.0 391.4 217.8 391.2 217.1 390.8 216.5 390.2 216.4 390.0 216.4 389.4 216.7 388.8 216.9 388.6 217.3 387.9 218.1 387.1 218.3 387.0 218.6 387.0 218.7 386.9 232.4 386.9 232.5 387.0 232.9 387.0 233.5 387.3 234.5 388.1 234.6 388.1 234.9 388.4 235.0 388.4 235.3 388.7 235.4 388.7 236.6 389.8 236.8 390.2 236.7 391.1 236.6 391.2 236.5 391.7 236.2 392.3 235.7 392.8 235.5 392.9 235.2 392.9 235.1 393.0Z" fill="#124f87" fill-opacity="0.35"/>
<ellipse cx="229.3" cy="422.6" rx="8.6" ry="2.4" fill="none" stroke="#fff" stroke-width="0.7" stroke-opacity="0.7" stroke-dasharray="1.4 0.6"/>
<circle cx="225.4" cy="394.4" r="1.4" fill="#fff" fill-opacity="0.9"/>
<path d="M222.4 396 L222.4 399.8 L231.8 399.8 M229.8 396.6 L229.8 399.8 M221 401.6 L232 401.6" fill="none" stroke="#fff" stroke-width="0.7" stroke-opacity="0.85"/>
<rect x="212.8" y="383" width="30.399999999999977" height="27.899999999999977" fill="none" stroke="#000" stroke-width="1.0"/>
<rect x="247.1" y="410.6" width="28.299999999999983" height="25.399999999999977" fill="none" stroke="#000" stroke-width="1.0"/>
<text x="227.8" y="379.4" font-size="7.7" text-anchor="middle" font-weight="normal" fill="#000" >11.1%</text>
<text x="261.6" y="407.8" font-size="7.7" text-anchor="middle" font-weight="normal" fill="#000" >69.1%</text>
<text x="296.4" y="210.8" font-size="10.5" text-anchor="start" font-weight="bold" fill="#000" stroke="#000" stroke-width="0.35">D</text>
<text x="394.1" y="234.2" font-size="9.05" text-anchor="middle" font-weight="normal" fill="#000" >Wild type donor (peripheral blood)</text>
<line x1="327.4" y1="240.80" x2="327.4" y2="327.4" stroke="#000" stroke-width="1.1"/>
<line x1="323.6" y1="326.90" x2="327.4" y2="326.90" stroke="#000" stroke-width="1"/>
<text x="321.9" y="329.50" font-size="7.3" text-anchor="end" font-weight="normal" fill="#000" >0</text>
<line x1="323.6" y1="313.18" x2="327.4" y2="313.18" stroke="#000" stroke-width="1"/>
<text x="321.9" y="315.78" font-size="7.3" text-anchor="end" font-weight="normal" fill="#000" >20</text>
<line x1="323.6" y1="299.46" x2="327.4" y2="299.46" stroke="#000" stroke-width="1"/>
<text x="321.9" y="302.06" font-size="7.3" text-anchor="end" font-weight="normal" fill="#000" >40</text>
<line x1="323.6" y1="285.74" x2="327.4" y2="285.74" stroke="#000" stroke-width="1"/>
<text x="321.9" y="288.34" font-size="7.3" text-anchor="end" font-weight="normal" fill="#000" >60</text>
<line x1="323.6" y1="272.02" x2="327.4" y2="272.02" stroke="#000" stroke-width="1"/>
<text x="321.9" y="274.62" font-size="7.3" text-anchor="end" font-weight="normal" fill="#000" >80</text>
<line x1="323.6" y1="258.30" x2="327.4" y2="258.30" stroke="#000" stroke-width="1"/>
<text x="321.9" y="260.90" font-size="7.3" text-anchor="end" font-weight="normal" fill="#000" >100</text>
<line x1="323.6" y1="244.58" x2="327.4" y2="244.58" stroke="#000" stroke-width="1"/>
<line x1="326.9" y1="327.29999999999995" x2="459.8" y2="327.29999999999995" stroke="#000" stroke-width="1.1"/>
<line x1="327.80" y1="326.9" x2="327.80" y2="330.09999999999997" stroke="#000" stroke-width="0.9"/>
<line x1="343.95" y1="326.9" x2="343.95" y2="330.09999999999997" stroke="#000" stroke-width="0.9"/>
<line x1="360.10" y1="326.9" x2="360.10" y2="330.09999999999997" stroke="#000" stroke-width="0.9"/>
<line x1="376.25" y1="326.9" x2="376.25" y2="330.09999999999997" stroke="#000" stroke-width="0.9"/>
<line x1="392.40" y1="326.9" x2="392.40" y2="330.09999999999997" stroke="#000" stroke-width="0.9"/>
<line x1="408.55" y1="326.9" x2="408.55" y2="330.09999999999997" stroke="#000" stroke-width="0.9"/>
<line x1="424.70" y1="326.9" x2="424.70" y2="330.09999999999997" stroke="#000" stroke-width="0.9"/>
<line x1="440.85" y1="326.9" x2="440.85" y2="330.09999999999997" stroke="#000" stroke-width="0.9"/>
<line x1="459.30" y1="326.9" x2="459.30" y2="330.09999999999997" stroke="#000" stroke-width="0.9"/>
<rect x="329.80" y="257.70" width="11.1" height="69.20" fill="#e2899a"/>
<rect x="329.80" y="294.80" width="11.1" height="32.10" fill="#d6586e"/>
<rect x="329.80" y="303.23" width="11.1" height="23.67" fill="#c8102e"/>
<text x="335.35" y="337.90" font-size="6.0" text-anchor="middle" font-weight="normal" fill="#000" >WT1</text>
<rect x="345.95" y="257.70" width="11.1" height="69.20" fill="#e2899a"/>
<rect x="345.95" y="301.93" width="11.1" height="24.97" fill="#d6586e"/>
<rect x="345.95" y="305.77" width="11.1" height="21.13" fill="#c8102e"/>
<text x="351.50" y="337.90" font-size="6.0" text-anchor="middle" font-weight="normal" fill="#000" >WT2</text>
<rect x="362.10" y="257.70" width="11.1" height="69.20" fill="#e2899a"/>
<rect x="362.10" y="282.31" width="11.1" height="44.59" fill="#d6586e"/>
<rect x="362.10" y="300.83" width="11.1" height="26.07" fill="#c8102e"/>
<text x="367.65" y="337.90" font-size="6.0" text-anchor="middle" font-weight="normal" fill="#000" >WT3</text>
<rect x="378.25" y="257.70" width="11.1" height="69.20" fill="#e2899a"/>
<rect x="378.25" y="288.83" width="11.1" height="38.07" fill="#d6586e"/>
<rect x="378.25" y="302.20" width="11.1" height="24.70" fill="#c8102e"/>
<text x="383.80" y="337.90" font-size="6.0" text-anchor="middle" font-weight="normal" fill="#000" >WT4</text>
<rect x="394.40" y="257.70" width="11.1" height="69.20" fill="#e2899a"/>
<rect x="394.40" y="276.55" width="11.1" height="50.35" fill="#d6586e"/>
<rect x="394.40" y="288.83" width="11.1" height="38.07" fill="#c8102e"/>
<text x="399.95" y="337.90" font-size="6.0" text-anchor="middle" font-weight="normal" fill="#000" >WT5</text>
<rect x="410.55" y="257.70" width="11.1" height="69.20" fill="#e2899a"/>
<rect x="410.55" y="291.91" width="11.1" height="34.99" fill="#d6586e"/>
<rect x="410.55" y="304.95" width="11.1" height="21.95" fill="#c8102e"/>
<text x="416.10" y="337.90" font-size="6.0" text-anchor="middle" font-weight="normal" fill="#000" >WT6</text>
<rect x="426.70" y="257.70" width="11.1" height="69.20" fill="#e2899a"/>
<rect x="426.70" y="274.35" width="11.1" height="52.55" fill="#d6586e"/>
<rect x="426.70" y="291.64" width="11.1" height="35.26" fill="#c8102e"/>
<text x="432.25" y="337.90" font-size="6.0" text-anchor="middle" font-weight="normal" fill="#000" >WT7</text>
<rect x="442.85" y="257.70" width="11.1" height="69.20" fill="#e2899a"/>
<rect x="442.85" y="267.70" width="11.1" height="59.20" fill="#d6586e"/>
<rect x="442.85" y="302.20" width="11.1" height="24.70" fill="#c8102e"/>
<text x="448.40" y="337.90" font-size="6.0" text-anchor="middle" font-weight="normal" fill="#000" >WT8</text>
<text x="393.5" y="250.9" font-size="9.0" text-anchor="middle" font-weight="normal" fill="#000" >Recipient 45.1</text>
<text transform="translate(304.2,291.80) rotate(-90) scale(0.685,1)" font-size="9.6" text-anchor="middle" stroke="#000" stroke-width="0.2">% of live cells</text>
<rect x="461.5" y="257.70" width="7" height="4.9" fill="#e2899a"/>
<text x="471.7" y="262.50" font-size="7.4" text-anchor="start" font-weight="normal" fill="#000" >CD3+</text>
<rect x="461.5" y="266.90" width="7" height="4.9" fill="#d6586e"/>
<text x="471.7" y="271.70" font-size="7.4" text-anchor="start" font-weight="normal" fill="#000" >Mac1+ Gr1+</text>
<rect x="461.5" y="276.10" width="7" height="4.9" fill="#c8102e"/>
<text x="471.7" y="280.90" font-size="7.4" text-anchor="start" font-weight="normal" fill="#000" >B220+</text>
<line x1="327.4" y1="356.50" x2="327.4" y2="443.6" stroke="#000" stroke-width="1.1"/>
<line x1="323.6" y1="443.10" x2="327.4" y2="443.10" stroke="#000" stroke-width="1"/>
<text x="321.9" y="445.70" font-size="7.3" text-anchor="end" font-weight="normal" fill="#000" >0</text>
<line x1="323.6" y1="429.28" x2="327.4" y2="429.28" stroke="#000" stroke-width="1"/>
<text x="321.9" y="431.88" font-size="7.3" text-anchor="end" font-weight="normal" fill="#000" >20</text>
<line x1="323.6" y1="415.46" x2="327.4" y2="415.46" stroke="#000" stroke-width="1"/>
<text x="321.9" y="418.06" font-size="7.3" text-anchor="end" font-weight="normal" fill="#000" >40</text>
<line x1="323.6" y1="401.64" x2="327.4" y2="401.64" stroke="#000" stroke-width="1"/>
<text x="321.9" y="404.24" font-size="7.3" text-anchor="end" font-weight="normal" fill="#000" >60</text>
<line x1="323.6" y1="387.82" x2="327.4" y2="387.82" stroke="#000" stroke-width="1"/>
<text x="321.9" y="390.42" font-size="7.3" text-anchor="end" font-weight="normal" fill="#000" >80</text>
<line x1="323.6" y1="374.00" x2="327.4" y2="374.00" stroke="#000" stroke-width="1"/>
<text x="321.9" y="376.60" font-size="7.3" text-anchor="end" font-weight="normal" fill="#000" >100</text>
<line x1="323.6" y1="360.18" x2="327.4" y2="360.18" stroke="#000" stroke-width="1"/>
<line x1="326.9" y1="443.5" x2="459.8" y2="443.5" stroke="#000" stroke-width="1.1"/>
<line x1="327.80" y1="443.1" x2="327.80" y2="446.3" stroke="#000" stroke-width="0.9"/>
<line x1="343.95" y1="443.1" x2="343.95" y2="446.3" stroke="#000" stroke-width="0.9"/>
<line x1="360.10" y1="443.1" x2="360.10" y2="446.3" stroke="#000" stroke-width="0.9"/>
<line x1="376.25" y1="443.1" x2="376.25" y2="446.3" stroke="#000" stroke-width="0.9"/>
<line x1="392.40" y1="443.1" x2="392.40" y2="446.3" stroke="#000" stroke-width="0.9"/>
<line x1="408.55" y1="443.1" x2="408.55" y2="446.3" stroke="#000" stroke-width="0.9"/>
<line x1="424.70" y1="443.1" x2="424.70" y2="446.3" stroke="#000" stroke-width="0.9"/>
<line x1="440.85" y1="443.1" x2="440.85" y2="446.3" stroke="#000" stroke-width="0.9"/>
<line x1="459.30" y1="443.1" x2="459.30" y2="446.3" stroke="#000" stroke-width="0.9"/>
<rect x="329.80" y="373.40" width="11.1" height="69.70" fill="#8aaac8"/>
<rect x="329.80" y="383.47" width="11.1" height="59.63" fill="#5784ad"/>
<rect x="329.80" y="385.75" width="11.1" height="57.35" fill="#0f4c85"/>
<text x="335.35" y="454.10" font-size="6.0" text-anchor="middle" font-weight="normal" fill="#000" >WT1</text>
<rect x="345.95" y="373.40" width="11.1" height="69.70" fill="#8aaac8"/>
<rect x="345.95" y="383.67" width="11.1" height="59.43" fill="#5784ad"/>
<rect x="345.95" y="387.82" width="11.1" height="55.28" fill="#0f4c85"/>
<text x="351.50" y="454.10" font-size="6.0" text-anchor="middle" font-weight="normal" fill="#000" >WT2</text>
<rect x="362.10" y="373.40" width="11.1" height="69.70" fill="#8aaac8"/>
<rect x="362.10" y="380.50" width="11.1" height="62.60" fill="#5784ad"/>
<rect x="362.10" y="406.48" width="11.1" height="36.62" fill="#0f4c85"/>
<text x="367.65" y="454.10" font-size="6.0" text-anchor="middle" font-weight="normal" fill="#000" >WT3</text>
<rect x="378.25" y="373.40" width="11.1" height="69.70" fill="#8aaac8"/>
<rect x="378.25" y="378.15" width="11.1" height="64.95" fill="#5784ad"/>
<rect x="378.25" y="381.60" width="11.1" height="61.50" fill="#0f4c85"/>
<text x="383.80" y="454.10" font-size="6.0" text-anchor="middle" font-weight="normal" fill="#000" >WT4</text>
<rect x="394.40" y="373.40" width="11.1" height="69.70" fill="#8aaac8"/>
<rect x="394.40" y="377.04" width="11.1" height="66.06" fill="#5784ad"/>
<rect x="394.40" y="385.75" width="11.1" height="57.35" fill="#0f4c85"/>
<text x="399.95" y="454.10" font-size="6.0" text-anchor="middle" font-weight="normal" fill="#000" >WT5</text>
<rect x="410.55" y="373.40" width="11.1" height="69.70" fill="#8aaac8"/>
<rect x="410.55" y="376.76" width="11.1" height="66.34" fill="#5784ad"/>
<rect x="410.55" y="380.22" width="11.1" height="62.88" fill="#0f4c85"/>
<text x="416.10" y="454.10" font-size="6.0" text-anchor="middle" font-weight="normal" fill="#000" >WT6</text>
<rect x="426.70" y="373.40" width="11.1" height="69.70" fill="#8aaac8"/>
<rect x="426.70" y="375.04" width="11.1" height="68.06" fill="#5784ad"/>
<rect x="426.70" y="383.88" width="11.1" height="59.22" fill="#0f4c85"/>
<text x="432.25" y="454.10" font-size="6.0" text-anchor="middle" font-weight="normal" fill="#000" >WT7</text>
<rect x="442.85" y="373.40" width="11.1" height="69.70" fill="#8aaac8"/>
<rect x="442.85" y="375.73" width="11.1" height="67.37" fill="#5784ad"/>
<rect x="442.85" y="376.07" width="11.1" height="67.03" fill="#0f4c85"/>
<text x="448.40" y="454.10" font-size="6.0" text-anchor="middle" font-weight="normal" fill="#000" >WT8</text>
<text x="393.5" y="367.5" font-size="9.0" text-anchor="middle" font-weight="normal" fill="#000" >Donor 45.2</text>
<text transform="translate(304.2,408.00) rotate(-90) scale(0.685,1)" font-size="9.6" text-anchor="middle" stroke="#000" stroke-width="0.2">% of live cells</text>
<rect x="461.5" y="374.00" width="7" height="4.9" fill="#8aaac8"/>
<text x="471.7" y="378.80" font-size="7.4" text-anchor="start" font-weight="normal" fill="#000" >CD3+</text>
<rect x="461.5" y="383.20" width="7" height="4.9" fill="#5784ad"/>
<text x="471.7" y="388.00" font-size="7.4" text-anchor="start" font-weight="normal" fill="#000" >Mac1+ Gr1+</text>
<rect x="461.5" y="392.40" width="7" height="4.9" fill="#0f4c85"/>
<text x="471.7" y="397.20" font-size="7.4" text-anchor="start" font-weight="normal" fill="#000" >B220+</text>
<rect x="0.5" y="0.5" width="519" height="460" fill="none" stroke="#000" stroke-width="1"/>
</svg></body></html>
